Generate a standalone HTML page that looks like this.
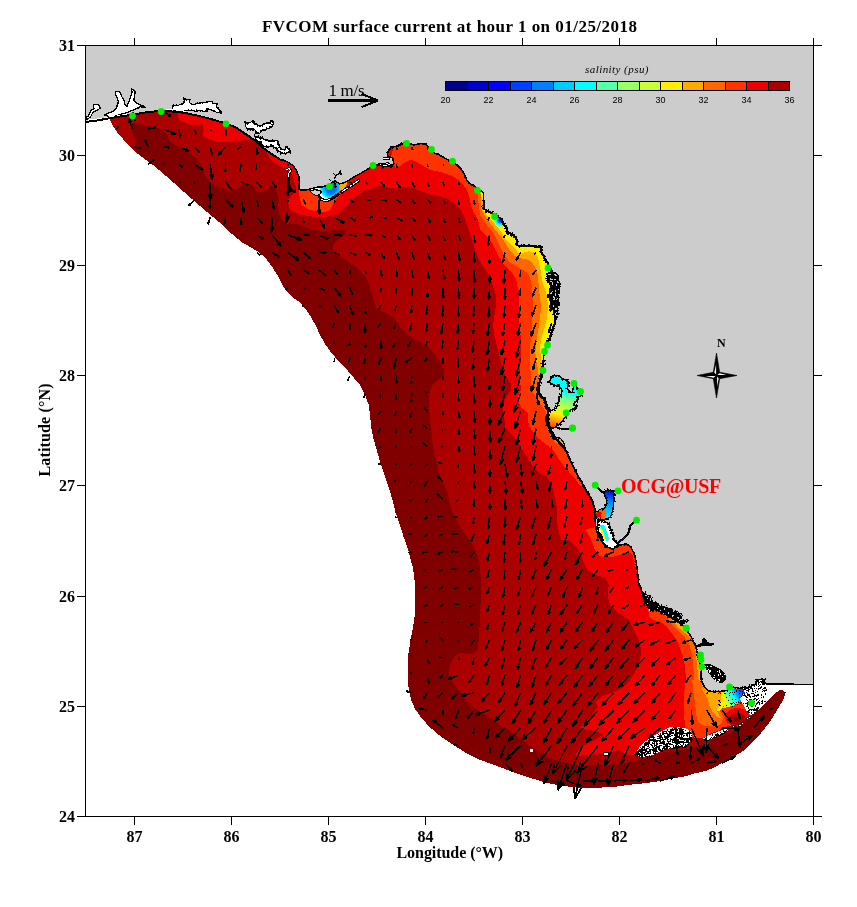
<!DOCTYPE html>
<html><head><meta charset="utf-8"><title>FVCOM surface current</title>
<style>html,body{margin:0;padding:0;background:#fff}body{width:857px;height:907px;position:relative;overflow:hidden}</style></head>
<body>
<svg width="857" height="907" viewBox="0 0 857 907" style="position:absolute;left:0;top:0">
<defs>
<linearGradient id="gTampa" gradientUnits="userSpaceOnUse" x1="565" y1="375" x2="550" y2="428"><stop offset="0" stop-color="#00FFFF"/><stop offset="0.30" stop-color="#00FFFF"/><stop offset="0.36" stop-color="#55FFAA"/><stop offset="0.50" stop-color="#99FF66"/><stop offset="0.62" stop-color="#CCFF33"/><stop offset="0.72" stop-color="#FFEE00"/><stop offset="0.82" stop-color="#FFAA00"/><stop offset="0.92" stop-color="#FF6600"/><stop offset="1" stop-color="#FF3300"/></linearGradient>
<linearGradient id="gChar" gradientUnits="userSpaceOnUse" x1="610" y1="490" x2="600" y2="545"><stop offset="0" stop-color="#0000CF"/><stop offset="0.2" stop-color="#0080FF"/><stop offset="0.4" stop-color="#00CCFF"/><stop offset="0.6" stop-color="#00FFFF"/><stop offset="0.75" stop-color="#99FF66"/><stop offset="0.9" stop-color="#FFEE00"/><stop offset="1" stop-color="#FF6600"/></linearGradient>
<radialGradient id="gApal" gradientUnits="userSpaceOnUse" cx="331" cy="188" r="12"><stop offset="0" stop-color="#0040FF"/><stop offset="0.45" stop-color="#0080FF"/><stop offset="0.7" stop-color="#00CCFF"/><stop offset="0.85" stop-color="#00FFFF"/><stop offset="1" stop-color="#FFFFFF"/></radialGradient>
<linearGradient id="gFlBay" gradientUnits="userSpaceOnUse" x1="743" y1="690" x2="716" y2="706"><stop offset="0" stop-color="#0040FF"/><stop offset="0.2" stop-color="#0080FF"/><stop offset="0.35" stop-color="#00FFFF"/><stop offset="0.5" stop-color="#55FFAA"/><stop offset="0.65" stop-color="#CCFF33"/><stop offset="0.8" stop-color="#FFEE00"/><stop offset="1" stop-color="#FFAA00"/></linearGradient>
<radialGradient id="gSuw" gradientUnits="userSpaceOnUse" cx="500" cy="220.5" r="8.5"><stop offset="0" stop-color="#0000CF"/><stop offset="0.25" stop-color="#0080FF"/><stop offset="0.45" stop-color="#00FFFF"/><stop offset="0.6" stop-color="#55FFAA"/><stop offset="0.78" stop-color="#CCFF33"/><stop offset="1" stop-color="#FFEE00"/></radialGradient>
</defs>
<rect width="857" height="907" fill="#fff"/>
<g shape-rendering="crispEdges">
<path d="M110.5,121.2L113.8,127.5L117.5,132.5L123.8,140.0L130.0,147.0L137.6,153.7L145.4,159.5L153.3,165.3L161.1,171.7L168.6,178.2L176.1,184.9L183.6,191.7L191.1,198.2L198.6,204.9L206.1,211.2L213.6,217.5L221.1,223.7L228.6,231.2L236.1,237.5L243.5,243.3L250.7,247.2L257.8,251.6L265.0,257.5L272.5,267.5L278.8,277.5L283.8,287.5L291.2,296.2L300.0,302.5L306.2,310.0L311.2,317.5L316.2,326.2L320.0,335.0L325.0,343.8L331.2,352.5L337.5,360.0L345.0,367.5L352.5,376.2L360.0,385.0L365.0,395.0L368.8,405.0L370.0,415.0L371.2,427.5L373.8,440.0L377.5,452.5L380.0,462.5L383.8,472.5L388.8,487.5L392.5,500.0L395.5,512.5L400.0,525.0L403.8,537.5L407.5,547.5L410.0,557.5L413.0,567.5L414.5,580.0L415.0,592.5L415.0,605.0L414.5,617.5L412.5,630.0L410.5,640.0L408.8,652.5L408.0,652.5L407.5,665.0L407.5,677.5L408.8,690.0L411.2,700.0L415.0,708.8L421.2,717.5L428.8,726.2L437.5,733.8L447.5,741.2L457.5,747.5L467.5,753.8L477.5,758.8L487.5,762.5L497.5,766.2L507.5,770.0L517.5,773.8L527.5,777.0L537.5,780.0L547.5,783.0L560.0,785.5L572.5,787.0L580.0,788.0L594.0,787.8L608.0,787.3L616.4,786.6L626.2,785.2L636.0,784.1L645.8,783.1L655.6,781.7L664.0,780.3L672.4,778.5L680.8,777.1L687.5,775.7L693.3,773.7L700.3,772.3L707.3,770.4L714.3,767.5L720.2,764.0L726.0,760.5L733.0,757.0L740.0,752.9L744.7,750.0L749.3,745.3L754.0,740.7L758.7,736.0L763.3,730.2L768.0,724.3L771.5,719.5L775.2,713.2L779.4,706.2L783.6,699.2L785.0,693.6L782.9,690.1L780.1,689.4L770.0,682.0L700.0,600.0L600.0,400.0L500.0,150.0L300.0,100.0L150.0,80.0L100.0,100.0Z" fill="#800000"/>
<path d="M110.5,121.2L113.8,127.5L117.5,132.5L123.8,140.0L130.0,147.0L137.6,153.7L133.8,147.5L136.2,142.5L131.2,130.0L132.5,122.5L145.0,125.5L155.0,127.0L162.5,130.0L167.5,135.0L170.0,141.2L177.5,146.2L187.5,151.2L197.5,158.8L202.5,167.5L205.0,175.0L210.0,182.5L220.0,187.5L230.0,191.2L237.5,188.8L245.0,182.5L252.5,185.0L257.5,192.5L265.0,191.2L271.2,185.0L276.2,190.0L278.8,200.0L277.5,210.0L282.5,220.0L287.5,225.0L290.0,222.5L300.0,225.0L312.5,230.0L325.0,231.2L337.5,230.0L346.2,230.0L345.0,235.0L337.5,240.0L332.5,246.2L333.8,251.2L340.0,256.2L350.0,262.5L360.0,270.0L367.5,280.0L373.8,300.0L376.2,308.8L385.0,312.5L393.8,317.5L400.0,326.2L406.2,333.8L415.0,338.8L425.0,343.8L432.5,351.2L438.8,360.0L443.8,370.0L443.8,376.2L437.5,380.0L432.5,385.0L428.8,395.0L428.8,405.0L430.0,417.5L431.2,430.0L432.5,442.5L433.8,452.5L437.5,465.0L437.5,470.0L442.5,480.0L447.5,492.5L450.0,505.0L453.8,515.0L458.8,525.0L465.0,533.8L471.2,542.5L476.2,552.5L479.5,562.5L480.5,575.0L480.8,590.0L480.5,605.0L480.0,620.0L479.0,635.0L478.0,650.0L472.5,653.8L465.0,653.8L458.8,652.5L453.8,657.5L450.0,665.0L448.8,674.2L450.0,677.5L453.8,685.0L461.2,692.5L467.5,702.5L477.5,710.0L490.0,717.5L500.0,725.0L512.5,732.5L522.5,740.0L532.5,747.5L542.5,753.8L552.5,758.8L565.0,762.5L580.0,766.3L588.4,765.6L596.8,764.9L605.2,765.6L613.6,764.2L622.0,763.5L630.4,762.1L638.8,760.0L645.8,758.6L652.8,756.5L661.2,752.8L670.0,751.5L679.0,750.3L688.0,748.8L695.7,746.5L701.5,745.3L706.2,747.7L708.5,745.3L710.8,740.7L716.7,738.3L722.5,736.0L728.3,733.7L733.0,731.3L736.5,729.0L738.8,726.7L744.0,721.5L751.4,715.3L755.6,711.8L761.2,707.6L765.4,703.4L771.0,697.8L776.6,692.2L780.1,689.4L770.0,682.0L700.0,600.0L600.0,400.0L500.0,150.0L300.0,100.0L150.0,80.0L100.0,100.0Z" fill="#AA0000"/>
<path d="M263.8,146.2L270.0,158.8L277.5,165.0L287.5,170.0L292.5,175.0L296.2,187.5L295.0,192.5L287.5,200.0L290.0,210.0L302.5,215.0L317.5,217.5L330.0,216.2L340.0,212.5L347.5,205.0L355.0,197.5L365.0,190.0L380.0,186.0L388.4,187.4L396.8,188.8L405.2,186.7L413.6,188.1L422.0,191.6L430.4,194.4L438.8,195.8L447.2,198.6L454.2,202.8L459.8,208.4L464.0,215.4L466.8,223.8L469.6,232.2L472.4,240.6L475.2,250.0L480.0,261.8L483.5,266.5L487.0,272.3L490.5,279.3L492.8,286.3L494.6,290.0L496.3,297.0L496.3,304.0L495.2,311.0L494.0,318.0L493.1,325.0L493.8,332.0L495.2,339.0L496.9,346.0L498.7,353.0L500.4,360.0L502.2,367.0L504.5,374.0L508.0,379.8L510.9,383.3L510.9,390.0L507.5,395.0L502.5,405.0L503.8,415.0L505.6,428.4L509.8,432.6L514.0,436.8L518.2,442.4L521.0,448.0L525.2,453.6L529.4,460.6L533.6,467.6L539.2,473.2L546.2,476.0L549.0,480.2L551.8,485.8L553.9,492.8L555.3,499.8L556.7,506.8L557.4,515.2L557.4,523.6L558.8,532.0L561.6,540.0L568.8,540.0L575.0,545.0L580.0,552.5L583.8,562.5L587.5,570.0L595.0,575.0L605.0,577.5L608.8,585.0L607.5,595.0L610.0,605.0L617.5,612.5L625.0,617.5L628.8,620.0L633.8,630.0L638.8,640.0L641.2,650.0L640.0,660.0L636.2,670.0L630.0,680.0L622.5,687.5L612.5,692.5L602.5,696.2L596.2,701.2L597.5,707.5L592.5,715.0L585.0,722.5L580.0,727.5L604.2,733.8L595.0,740.0L585.0,745.0L578.8,750.0L575.0,755.0L580.0,755.8L585.6,755.1L594.0,754.4L602.4,753.0L610.8,751.6L617.8,750.2L622.0,751.6L626.2,754.4L634.6,755.1L650.0,752.0L670.0,745.0L692.0,738.0L700.0,735.0L760.0,700.0L700.0,600.0L600.0,400.0L500.0,150.0L300.0,120.0L270.0,140.0Z" fill="#EE0000"/>
<path d="M177.5,111.2L178.8,120.0L187.5,123.8L195.0,125.5L202.5,123.8L203.8,130.0L202.5,135.0L207.5,138.8L220.0,142.5L235.0,141.2L250.0,139.5L255.0,136.2L245.0,130.0L230.0,122.5L212.5,117.0L192.5,113.0Z" fill="#EE0000"/>
<path d="M391.2,156.2L393.0,163.0L395.4,167.8L399.6,166.4L403.8,162.9L409.4,160.1L415.0,160.8L420.6,164.3L426.2,167.8L433.2,170.6L440.2,172.0L447.2,174.1L454.2,176.9L459.8,181.1L464.0,186.0L467.5,191.6L469.6,198.6L471.0,205.6L473.8,212.6L478.0,219.6L480.0,229.2L484.7,233.8L489.3,238.5L492.8,244.3L496.3,251.3L499.8,258.3L503.3,264.2L508.0,268.8L512.7,273.5L516.2,279.3L517.3,286.3L518.5,290.0L519.1,297.0L519.1,304.0L518.5,311.0L518.5,318.0L519.1,325.0L520.3,332.0L520.8,339.0L521.4,346.0L521.4,353.0L520.8,360.0L520.3,367.0L520.3,374.0L520.3,381.0L520.8,390.0L518.5,395.0L517.5,400.0L521.2,407.5L527.5,412.5L528.0,420.0L529.4,427.0L533.6,432.6L537.8,438.2L543.4,442.4L549.0,446.6L554.6,452.2L558.8,459.2L563.0,464.8L566.5,469.0L570.0,473.2L574.2,477.4L577.0,481.6L580.0,486.0L600.0,480.0L600.0,400.0L500.0,150.0L400.0,120.0Z" fill="#FF3300"/>
<path d="M585.0,530.0L588.8,535.0L592.5,542.5L595.0,550.0L600.0,556.2L610.0,557.5L620.0,555.0L627.5,551.2L632.5,555.0L636.2,570.0L640.0,585.0L643.8,596.2L646.0,605.0L648.9,613.6L649.6,617.8L655.2,620.6L660.8,622.0L666.4,626.2L670.6,631.8L674.8,637.4L678.3,643.0L680.4,650.0L683.2,657.0L684.6,664.0L685.3,671.0L686.0,678.0L685.2,690.0L684.0,700.0L684.5,715.0L685.2,726.7L688.7,734.8L695.7,738.3L704.0,737.5L712.0,733.0L720.0,730.0L740.0,700.0L700.0,600.0L620.0,520.0Z" fill="#FF3300"/>
<path d="M298.8,192.5L301.2,205.0L310.0,210.0L322.5,212.5L330.0,210.0L333.8,202.5L340.0,195.0L345.0,187.5L350.0,150.0L300.0,150.0Z" fill="#FF3300"/>
<path d="M478.0,191.6L478.0,200.0L479.4,208.4L480.0,215.2L484.7,222.2L489.3,228.0L494.0,233.8L497.5,240.8L501.0,249.0L504.5,256.0L509.2,261.8L515.0,265.3L520.8,268.8L526.7,272.3L530.2,278.2L531.9,285.2L531.3,290.0L532.5,297.0L533.1,304.0L533.1,311.0L532.5,318.0L531.9,325.0L531.3,332.0L530.8,339.0L530.2,346.0L530.2,353.0L530.2,360.0L530.2,367.0L530.8,374.0L531.3,381.0L531.9,390.0L546.2,412.5L547.5,420.0L600.0,400.0L560.0,200.0L480.0,190.0Z" fill="#FF6600"/>
<path d="M547.5,426.2L550.0,435.0L555.0,442.5L562.5,447.5L566.2,452.5L600.0,460.0L560.0,400.0Z" fill="#FF6600"/>
<path d="M665.0,615.0L669.2,620.6L673.4,626.2L679.0,631.8L684.6,637.4L688.8,643.0L690.9,650.0L692.3,657.0L693.0,664.0L693.7,671.0L693.5,680.0L694.5,691.7L695.7,703.3L696.3,715.0L698.0,722.0L703.8,725.5L709.7,726.0L716.7,726.7L721.3,723.2L723.7,717.3L721.3,712.7L716.7,709.2L740.0,690.0L720.0,600.0Z" fill="#FF6600"/>
<path d="M480.8,195.8L481.2,208.2L484.7,215.2L489.3,222.2L494.0,228.0L498.7,233.8L503.3,239.7L506.8,245.5L510.3,251.3L515.0,256.0L520.8,258.3L526.7,259.5L531.3,261.8L534.8,266.5L537.2,272.3L538.3,279.3L538.9,290.0L540.1,297.0L540.7,304.0L540.7,311.0L540.1,318.0L538.9,325.0L537.8,332.0L536.6,339.0L535.8,346.0L535.4,353.0L536.0,360.0L537.2,365.8L538.3,371.7L538.9,377.5L600.0,400.0L560.0,200.0L480.0,190.0Z" fill="#FFAA00"/>
<path d="M670.6,618.5L674.8,623.4L679.0,628.3L686.0,633.9L691.6,638.8L694.4,645.8L695.8,652.8L696.5,659.8L697.2,666.8L697.9,673.8L698.6,679.4L700.0,685.0L704.2,690.6L709.0,703.0L712.0,711.5L716.7,716.2L721.3,718.5L719.0,712.0L716.7,705.7L740.0,690.0L720.0,600.0Z" fill="#FFAA00"/>
<path d="M483.0,203.0L483.5,210.5L487.0,215.2L491.7,219.8L496.3,225.7L501.0,231.5L505.1,238.5L509.2,243.2L513.8,247.8L517.3,251.3L519.7,254.8L524.3,252.5L529.0,251.3L533.7,252.5L537.2,256.0L538.9,261.8L540.1,267.7L541.3,274.7L542.4,281.7L545.3,290.0L547.1,297.0L547.7,304.0L547.7,311.0L547.1,318.0L545.3,325.0L543.6,330.8L541.8,336.7L540.7,342.5L540.1,348.3L540.7,355.3L541.3,362.3L541.3,367.0L600.0,400.0L560.0,200.0L480.0,190.0Z" fill="#FFEE00"/>
<path d="M306.7,190.3L310.2,189.1L316.0,187.3L323.0,186.8L327.7,185.0L332.3,182.7L334.7,179.2L339.3,183.8L344.0,182.7L341.7,188.5L337.0,193.2L332.3,196.7L327.7,199.0L323.0,199.0L320.1,196.7L318.3,194.9L320.7,192.0L318.3,190.3L313.7,189.7Z" fill="url(#gApal)"/>
<path d="M339.3,185.0L344.0,182.7L347.5,181.5L346.3,186.2L342.8,189.7L340.5,189.7Z" fill="#FFAA00"/>
<path d="M491.7,215.2L497.5,216.3L502.2,218.7L505.7,223.3L506.8,228.0L506.3,233.3L503.3,231.5L499.8,228.0L496.3,224.5L492.8,219.8Z" fill="url(#gSuw)"/>
<path d="M543.7,271.0L548.0,270.0L551.0,273.0L551.0,278.7L547.0,279.0L544.5,276.0Z" fill="#CCFF33"/>
<path d="M685.2,680.0L684.0,697.5L684.0,715.0L685.2,726.7L688.7,734.8L695.7,738.3L703.8,737.2L709.7,733.7L716.7,731.3L722.5,727.8L730.7,725.5L740.0,723.2L749.3,716.2L754.0,712.7L751.7,708.0L745.8,704.5L740.0,703.3L728.3,691.7L705.0,691.7L700.3,680.0Z" fill="#FF3300"/>
<path d="M692.2,680.0L693.3,691.7L695.1,703.3L696.3,715.0L698.0,722.0L703.8,725.5L709.7,726.1L716.7,726.7L721.3,723.2L723.7,717.3L721.3,712.7L716.7,709.2L710.8,703.3L705.0,691.7L700.3,680.0Z" fill="#FF6600"/>
<path d="M701.5,687.0L705.0,691.1L710.8,692.3L716.7,691.7L721.3,692.8L722.5,698.7L720.2,705.7L716.7,710.3L719.0,715.0L721.3,718.5L716.7,716.2L712.0,711.5L709.1,705.7L707.9,698.7L703.8,692.8Z" fill="#FFAA00"/>
<path d="M721.3,691.7L724.8,692.8L726.0,698.7L724.8,703.3L722.5,708.0L719.0,711.5L716.7,710.3L719.0,705.7L721.3,699.8Z" fill="#FFEE00"/>
<path d="M723.7,691.1L730.7,689.3L735.3,688.2L741.2,689.9L745.8,692.8L742.3,697.5L740.0,702.2L735.3,705.1L728.3,706.8L723.1,708.6L724.8,703.3L726.0,698.7L724.8,694.0Z" fill="url(#gFlBay)"/>
<ellipse cx="737.7" cy="717.3" rx="12.3" ry="9.3" fill="#EE0000"/>
<ellipse cx="737.1" cy="719.1" rx="8.8" ry="6.4" fill="#AA0000"/>
<ellipse cx="737.1" cy="719.4" rx="3.5" ry="2.6" fill="#800000"/>
<path d="M736.5,729.0L738.8,726.7L744.0,721.5L751.4,715.3L755.6,711.8L761.2,707.6L765.4,703.4L771.0,697.8L776.6,692.2L780.1,689.4L780.1,689.4L782.9,690.1L785.0,693.6L783.6,699.2L779.4,706.2L775.2,713.2L771.5,719.5L768.0,724.3L763.3,730.2L758.7,736.0L754.0,740.7L749.3,745.3L744.7,750.0L740.0,752.9L733.0,757.0L726.0,760.5L720.2,764.0L714.3,767.5L707.3,770.4L700.3,772.3L706.2,747.7L708.5,745.3L710.8,740.7L716.7,738.3L722.5,736.0L728.3,733.7L733.0,731.3Z" fill="#800000"/>
<path d="M85.5,45.5L85.5,122.0L85.5,122.0L97.0,120.5L109.0,118.3L120.0,116.5L131.0,115.0L146.5,112.3L159.0,111.0L172.0,111.5L185.0,113.0L197.5,115.6L210.0,118.8L222.5,122.5L235.0,127.0L242.5,132.0L248.8,136.2L255.0,140.6L261.2,146.2L267.5,151.2L273.8,155.6L280.0,159.4L286.2,161.2L292.5,165.0L296.2,170.0L298.8,176.2L299.4,182.5L298.8,186.0L299.2,189.7L304.3,190.3L310.2,189.1L316.0,187.3L323.0,186.8L327.7,185.0L332.3,182.7L334.7,180.5L339.3,183.8L344.0,182.7L348.7,180.3L353.3,177.4L360.0,173.7L365.6,170.5L372.6,166.3L380.0,164.3L385.6,165.0L391.2,167.1L394.0,163.6L392.6,158.0L388.4,156.6L387.0,152.4L391.2,147.5L396.8,146.1L401.0,144.0L406.6,143.3L413.6,144.7L420.6,143.7L426.2,144.0L428.3,148.2L433.2,152.4L440.2,155.2L445.8,158.7L451.4,161.5L456.3,164.3L461.2,169.2L464.7,174.8L466.8,180.4L471.0,184.6L476.6,187.4L480.8,190.9L483.6,193.0L483.5,200.0L483.5,208.2L487.0,211.1L491.7,212.8L496.3,215.8L501.0,218.7L503.3,223.3L506.8,228.0L506.8,232.7L511.5,233.8L515.0,237.3L517.3,240.8L516.2,244.3L519.7,246.7L523.2,245.5L529.0,246.1L536.0,246.7L541.8,246.7L540.7,251.3L543.0,254.8L545.3,259.5L547.7,263.0L548.8,266.5L551.2,271.2L554.7,273.5L558.2,278.2L558.8,284.0L558.2,290.0L557.6,297.0L557.0,304.0L557.0,311.0L555.8,318.0L554.7,323.8L552.3,329.7L550.6,335.5L548.8,340.2L547.1,344.8L544.8,350.7L543.6,356.5L543.6,362.3L543.6,368.2L542.4,374.0L541.3,378.7L539.5,383.3L538.3,390.0L545.0,402.5L549.5,410.0L548.8,417.5L548.8,425.0L552.5,432.5L556.2,438.8L562.5,445.0L567.0,452.5L570.0,460.0L573.8,467.5L577.5,475.0L582.5,483.8L587.5,492.5L592.5,501.2L595.0,510.0L595.0,520.0L596.2,530.0L600.0,538.8L605.0,546.2L612.5,548.8L620.0,545.0L626.2,543.8L631.2,547.5L635.0,556.2L637.0,567.5L638.4,580.0L639.1,585.6L641.9,591.2L644.0,598.2L646.8,605.2L650.3,610.8L655.2,609.4L660.8,612.2L666.4,615.0L672.0,618.5L677.6,622.0L681.8,624.8L686.0,628.3L688.8,633.2L691.6,637.4L693.7,641.6L695.8,647.2L697.2,652.8L698.6,658.4L700.0,664.0L701.4,669.6L700.7,675.2L701.4,680.8L704.2,686.4L708.4,690.6L714.0,692.0L721.0,691.3L726.6,690.6L730.8,687.8L735.0,687.3L740.2,688.7L745.8,688.0L750.0,686.6L755.6,683.8L758.4,679.6L764.0,679.6L765.4,684.1L794.2,684.1L813.5,684.5L813.5,45.5Z" fill="#CCCCCC"/>
<path d="M85.5,122.0L97.0,120.5L109.0,118.3L120.0,116.5L131.0,115.0L146.5,112.3L159.0,111.0L172.0,111.5L185.0,113.0L197.5,115.6L210.0,118.8L222.5,122.5L235.0,127.0L242.5,132.0L248.8,136.2L255.0,140.6L261.2,146.2L267.5,151.2L273.8,155.6L280.0,159.4L286.2,161.2L292.5,165.0L296.2,170.0L298.8,176.2L299.4,182.5L298.8,186.0L299.2,189.7L304.3,190.3L310.2,189.1L316.0,187.3L323.0,186.8L327.7,185.0L332.3,182.7L334.7,180.5L339.3,183.8L344.0,182.7L348.7,180.3L353.3,177.4L360.0,173.7L365.6,170.5L372.6,166.3L380.0,164.3L385.6,165.0L391.2,167.1L394.0,163.6L392.6,158.0L388.4,156.6L387.0,152.4L391.2,147.5L396.8,146.1L401.0,144.0L406.6,143.3L413.6,144.7L420.6,143.7L426.2,144.0L428.3,148.2L433.2,152.4L440.2,155.2L445.8,158.7L451.4,161.5L456.3,164.3L461.2,169.2L464.7,174.8L466.8,180.4L471.0,184.6L476.6,187.4L480.8,190.9L483.6,193.0L483.5,200.0L483.5,208.2L487.0,211.1L491.7,212.8L496.3,215.8L501.0,218.7L503.3,223.3L506.8,228.0L506.8,232.7L511.5,233.8L515.0,237.3L517.3,240.8L516.2,244.3L519.7,246.7L523.2,245.5L529.0,246.1L536.0,246.7L541.8,246.7L540.7,251.3L543.0,254.8L545.3,259.5L547.7,263.0L548.8,266.5L551.2,271.2L554.7,273.5L558.2,278.2L558.8,284.0L558.2,290.0L557.6,297.0L557.0,304.0L557.0,311.0L555.8,318.0L554.7,323.8L552.3,329.7L550.6,335.5L548.8,340.2L547.1,344.8L544.8,350.7L543.6,356.5L543.6,362.3L543.6,368.2L542.4,374.0L541.3,378.7L539.5,383.3L538.3,390.0L545.0,402.5L549.5,410.0L548.8,417.5L548.8,425.0L552.5,432.5L556.2,438.8L562.5,445.0L567.0,452.5L570.0,460.0L573.8,467.5L577.5,475.0L582.5,483.8L587.5,492.5L592.5,501.2L595.0,510.0L595.0,520.0L596.2,530.0L600.0,538.8L605.0,546.2L612.5,548.8L620.0,545.0L626.2,543.8L631.2,547.5L635.0,556.2L637.0,567.5L638.4,580.0L639.1,585.6L641.9,591.2L644.0,598.2L646.8,605.2L650.3,610.8L655.2,609.4L660.8,612.2L666.4,615.0L672.0,618.5L677.6,622.0L681.8,624.8L686.0,628.3L688.8,633.2L691.6,637.4L693.7,641.6L695.8,647.2L697.2,652.8L698.6,658.4L700.0,664.0L701.4,669.6L700.7,675.2L701.4,680.8L704.2,686.4L708.4,690.6L714.0,692.0L721.0,691.3L726.6,690.6L730.8,687.8L735.0,687.3L740.2,688.7L745.8,688.0L750.0,686.6L755.6,683.8L758.4,679.6L764.0,679.6L765.4,684.1L794.2,684.1" fill="none" stroke="#000" stroke-width="1.5"/>
<path d="M91.5,110.0L94.0,108.7L93.4,105.0L96.5,104.3L99.6,105.6L100.2,108.1L97.7,110.0L95.2,111.2L92.7,112.5L91.5,115.0L90.2,117.5L87.7,118.7L85.9,120.0L85.9,117.5L88.4,116.2L89.6,113.1Z" fill="#fff" stroke="#000" stroke-width="1.2" stroke-linejoin="round"/>
<path d="M115.2,92.5L117.7,91.2L120.2,92.5L121.5,96.2L124.0,100.0L125.2,105.0L127.1,106.2L128.9,101.2L130.8,96.2L132.1,92.5L131.4,88.7L133.3,90.0L135.2,91.9L134.6,96.2L133.9,100.6L136.4,103.1L140.2,105.0L143.9,106.2L145.2,107.2L140.2,106.8L137.7,108.1L133.9,110.0L130.2,111.2L126.4,112.7L122.7,113.7L119.0,115.0L115.8,115.6L114.6,117.5L111.5,118.1L109.0,117.5L106.5,115.6L104.0,115.0L106.5,113.7L110.2,112.5L114.0,110.6L116.5,108.1L117.7,105.0L118.3,101.2L117.1,97.5L115.8,95.0Z" fill="#fff" stroke="#000" stroke-width="1.2" stroke-linejoin="round"/>
<path d="M172.5,108.1L173.7,105.0L177.5,105.6L182.5,103.7L185.0,101.2L183.7,98.7L186.8,100.0L190.0,99.4L189.3,102.5L192.5,104.4L197.5,103.7L202.4,102.5L207.4,101.9L211.2,101.2L213.7,103.7L217.4,103.7L216.2,106.8L219.9,110.0L221.2,113.1L217.4,112.5L213.7,111.2L209.9,109.3L206.2,108.7L207.4,111.8L203.7,111.2L200.0,110.6L196.2,111.2L191.2,110.6L187.5,110.6L182.5,111.8L177.5,111.2L173.7,110.0Z" fill="#fff" stroke="#000" stroke-width="1.2" stroke-linejoin="round"/>
<path d="M245.0,122.5L248.7,123.1L253.7,120.6L255.0,123.7L260.0,126.2L265.0,123.7L270.0,122.5L271.8,120.6L273.7,122.5L272.4,126.2L267.5,128.7L262.5,130.0L260.0,133.1L256.8,133.7L255.0,130.0L251.2,128.7L247.5,130.0L245.6,126.2Z" fill="#fff" stroke="#000" stroke-width="1.2" stroke-linejoin="round"/>
<path d="M255.0,136.2L261.2,138.1L266.2,140.0L272.4,141.2L277.4,140.6L278.7,145.0L281.2,148.7L284.9,150.0L286.2,146.8L289.9,150.0L290.5,152.4L286.2,153.1L282.4,153.7L278.7,151.2L274.9,147.5L271.2,146.2L267.5,147.5L263.7,146.2L260.0,142.5L256.2,140.0Z" fill="#fff" stroke="#000" stroke-width="1.2" stroke-linejoin="round"/>
<path d="M245.0,122.5l0.1,-1.6M246.5,122.7l-0.2,1.6M248.0,123.0l-0.9,1.7M248.7,123.1l-2.1,-1.0M252.7,121.1l-0.7,2.1M253.7,120.6l-1.3,-0.4M254.3,122.0l-0.9,1.6M254.9,123.4l-1.3,1.1M255.0,123.7l2.0,-0.4M259.0,125.7l-1.8,0.5M261.3,125.5l2.1,1.0M264.0,124.2l-0.6,-1.0M266.5,123.3l0.6,-1.3M267.9,123.0l1.7,0.7M270.0,122.5l-0.1,1.9M271.8,120.6l-1.8,0.4M273.7,122.5l-1.5,-0.8M273.2,123.9l0.9,1.3M272.7,125.3l-1.7,-0.9M271.1,126.9l1.3,0.6M269.7,127.6l-0.2,-1.9M268.4,128.2l1.2,0.6M267.5,128.7l-1.8,-1.0M266.0,129.1l1.4,1.3M264.6,129.5l1.3,1.6M263.1,129.8l1.4,1.4M260.6,132.3l-0.2,-2.0M258.5,133.4l-1.3,-1.5M257.1,133.7l-0.9,-1.1M256.8,133.7l-1.6,-0.5M256.1,132.4l-0.7,1.4M255.5,131.0l1.8,0.7M255.0,130.0l0.7,1.7M253.6,129.5l-1.1,1.6M252.2,129.0l1.9,-1.0M251.2,128.7l-0.8,2.3M249.8,129.2l-1.2,-1.3M248.4,129.7l-0.8,-1.8" stroke="#000" stroke-width="1.2" fill="none"/>
<path d="M255.0,136.2l-0.6,-1.9M256.4,136.6l0.5,1.6M257.9,137.1l1.0,-1.4M259.3,137.5l0.8,1.8M260.7,138.0l0.0,1.9M261.2,138.1l-0.9,-1.9M262.6,138.6l-0.5,-2.3M266.2,140.0l-0.9,1.3M267.7,140.3l-1.2,-1.4M269.1,140.6l-0.6,1.7M270.6,140.9l-1.8,1.2M272.1,141.1l0.9,-1.8M272.4,141.2l0.4,-1.4M273.9,141.0l0.2,1.2M276.9,140.7l-0.3,-1.0M277.4,140.6l-1.3,0.0M277.8,142.0l0.8,-1.3M278.3,143.5l-1.1,-0.2M278.7,144.9l-1.3,-0.6M278.7,145.0l1.2,-0.9M280.4,147.5l-2.2,0.3M281.2,148.7l-1.3,1.6M282.6,149.2l-1.9,0.7M284.0,149.7l2.0,-1.0M284.9,150.0l1.3,-0.5M286.0,147.2l-1.2,-0.4M286.2,146.8l1.8,-0.1M287.3,147.8l0.3,-1.4M289.6,149.7l0.4,-1.9M289.9,150.0l1.4,0.3M290.3,151.5l-2.0,-0.3M290.5,152.4l-0.1,2.0M286.2,153.1l-1.0,1.6M284.7,153.3l0.2,-1.6M283.2,153.6l-0.9,-1.4M281.2,152.9l-1.2,1.5M279.9,152.0l1.2,-0.9M278.7,151.2l-1.4,1.3M277.6,150.2l-1.2,0.4M276.6,149.1l1.3,-0.5M275.5,148.1l1.2,-0.4M274.9,147.5l-1.9,1.2M273.5,147.0l0.5,-0.9M272.1,146.5l1.3,-1.3M271.2,146.2l-0.2,-2.0M269.8,146.7l0.4,-1.4M267.5,147.5l0.7,-1.6M266.1,147.0l0.7,-1.7M262.6,145.1l-0.9,1.3M261.6,144.1l-1.3,1.1M260.5,143.0l-0.6,1.4M260.0,142.5l1.7,-0.5M258.7,141.7l2.1,-0.5M256.2,140.0l-0.8,1.8M255.3,137.1l-1.4,-0.7" stroke="#000" stroke-width="1.2" fill="none"/>
<path d="M115.2,92.5l0.1,-1.2M117.4,91.3l-0.1,0.9M119.9,92.4l-0.8,0.6M122.9,98.3l-0.2,1.0M128.8,101.5l1.2,-0.1M130.7,96.5l0.5,1.0M135.1,91.8l-1.2,0.3M135.2,91.9l-0.9,-0.2M134.6,96.2l-0.6,-0.6M134.2,98.7l-0.6,-0.9M136.4,103.1l-0.3,-1.3M138.6,104.2l0.7,-0.8M140.2,105.0l1.0,-0.6M143.9,106.2l-0.3,1.1M145.2,107.2l-0.5,1.1M142.7,107.0l-0.3,1.0M140.2,106.8l0.5,-1.0M140.2,106.8l0.0,-1.1M138.0,108.0l0.4,0.9M137.7,108.1l0.3,-1.1M135.5,109.2l-0.2,-1.2M133.9,110.0l-0.2,-0.9M131.5,110.8l-0.0,-1.1M120.3,114.5l-0.5,0.8M116.5,115.5l0.6,0.9M114.6,117.5l0.4,-0.8M112.1,118.0l0.7,-0.8M109.0,117.5l0.7,-0.8M106.5,115.6l0.9,-0.6M104.0,115.0l0.2,1.1M106.2,113.8l0.0,0.7M112.4,111.4l0.9,0.6M114.0,110.6l-1.3,-0.3M115.8,108.8l-1.0,-0.1M117.4,105.8l-1.0,0.2" stroke="#000" stroke-width="1" fill="none"/>
<path d="M172.5,108.1l-0.8,-1.4M173.4,105.8l-0.7,-0.7M173.7,105.0l0.5,1.4M176.2,105.4l-0.2,-1.0M177.5,105.6l-1.3,-1.0M182.5,103.7l0.6,1.2M184.3,101.9l-0.8,-0.5M183.8,99.0l-1.3,0.2M183.7,98.7l-0.2,-1.4M186.0,99.7l-0.1,-1.6M186.8,100.0l-0.2,-0.9M189.3,99.5l-0.3,1.4M190.0,99.4l-1.3,-0.2M189.4,101.8l1.1,0.3M189.3,102.5l-0.4,1.1M191.4,103.8l0.2,1.4M195.0,104.1l0.1,-0.9M197.5,103.7l-0.4,-1.2M197.5,103.7l-0.8,-1.0M199.9,103.1l-0.3,-0.8M202.4,102.5l-0.2,1.1M207.4,101.9l-0.4,1.5M207.4,101.9l-0.5,1.0M211.2,101.2l1.4,0.0M213.0,103.0l-0.8,1.0M218.1,108.4l0.8,-0.7M220.9,112.3l1.1,-1.1M218.7,112.7l1.1,-0.8M217.4,112.5l1.0,-1.0M215.0,111.7l-0.3,-1.3M213.7,111.2l1.3,-0.5M211.5,110.1l0.4,1.1M207.4,108.9l0.1,1.3M204.9,111.4l0.2,-1.0M200.0,110.6l0.1,1.3M197.5,111.0l-1.4,-1.2M191.2,110.6l0.9,-1.3M188.7,110.6l0.1,-1.2M185.1,111.2l-1.4,-0.9M182.6,111.8l1.5,0.9M180.0,111.5l-1.1,1.4M177.5,111.2l-0.7,-1.3M175.1,110.4l-1.0,0.6" stroke="#000" stroke-width="1" fill="none"/>
<path d="M88,120.2L100,118.6L113,116.6L128,114.2" stroke="#fff" stroke-width="1" fill="none"/>
<path d="M166,109.5L176,110L186,111.5" stroke="#fff" stroke-width="1" fill="none"/>
<path d="M286.3,169.3L289.2,168.7L290.6,170.8L288.9,173.3L288.0,176.8L288.4,182.7L289.4,187.3L291.3,190.8L296.2,191.4" stroke="#000" stroke-width="3" fill="none" stroke-linejoin="round"/>
<path d="M286.3,169.3L289.2,168.7L290.6,170.8L288.9,173.3L288.0,176.8" stroke="#fff" stroke-width="1" fill="none"/>
<path d="M310.2,190.8L314.8,189.7L319.5,190.3L321.3,192.0L319.5,194.9L316.0,195.5L312.5,193.8Z" fill="#CCCCCC" stroke="#000" stroke-width="1.2"/>
<path d="M318.9,195.7L320.7,199.0L325.3,200.8L330.0,199.6L334.7,196.7L339.3,193.8" stroke="#000" stroke-width="3" fill="none" stroke-linejoin="round"/>
<path d="M320.7,199.0L325.3,200.8L330.0,199.6" stroke="#fff" stroke-width="1" fill="none"/>
<path d="M341.7,192.2L347.5,187.9" stroke="#000" stroke-width="3.2" fill="none" stroke-linecap="round"/>
<path d="M341.7,192.2L347.5,187.9" stroke="#fff" stroke-width="1" fill="none"/>
<path d="M349.8,186.4L358.6,180.6" stroke="#000" stroke-width="3.2" fill="none" stroke-linecap="round"/>
<path d="M349.8,186.4L358.6,180.6" stroke="#fff" stroke-width="1" fill="none"/>
<path d="M379.6,164.5L388.0,163.9L390.8,165.6" stroke="#000" stroke-width="3" fill="none" stroke-linecap="round"/>
<path d="M379.6,164.5L388.0,163.9L390.8,165.6" stroke="#fff" stroke-width="1" fill="none"/>
<path d="M547.4,417.9L548.3,412.3L552.1,410.4L555.8,408.6L557.7,404.8L558.6,400.1L560.5,395.5L562.3,390.8L560.5,388.0L557.7,386.1L553.0,384.3L548.8,382.4L551.1,378.7L553.0,375.4L557.2,375.4L561.4,377.7L566.1,380.1L568.0,383.3L567.5,388.0L568.9,391.7L572.6,392.7L573.1,388.0L573.6,385.2L575.9,384.3L577.3,388.0L581.0,391.7L582.0,395.5L578.2,397.3L576.4,401.1L573.6,403.9L575.4,405.8L577.3,406.7L574.5,408.6L570.8,409.5L568.0,412.3L566.1,416.0L563.3,419.8L560.5,422.6L557.7,425.4L554.9,427.2L551.1,428.2L548.3,425.4L546.9,421.6Z" fill="url(#gTampa)" stroke="#000" stroke-width="1.3" stroke-linejoin="round"/>
<path d="M547.4,417.9l-2.1,-0.3M547.6,416.6l-2.2,-0.4M547.8,415.3l1.4,0.8M548.0,414.0l-1.5,0.8M548.2,412.8l-1.1,-1.1M550.6,411.1l-0.6,2.2M552.1,410.4l-2.0,-0.6M554.4,409.3l0.8,1.8M555.6,408.7l-1.5,-0.7M556.4,407.4l-1.7,-2.0M557.5,405.1l1.9,1.1M557.9,403.5l-2.4,-0.1M558.2,402.2l2.2,-1.6M558.4,401.0l1.4,-0.6M559.1,398.9l-1.3,-1.6M559.6,397.7l-1.7,-1.2M560.1,396.5l2.0,-1.0M560.5,395.5l1.3,2.2M561.0,394.3l-2.3,-0.3M560.9,388.6l-2.3,1.0M559.4,387.3l-0.3,-2.3M558.3,386.5l-1.7,0.5M557.7,386.1l1.7,-1.8M556.5,385.6l2.2,-1.0M555.3,385.2l-1.8,1.9M554.1,384.7l-0.7,1.4M551.8,383.8l-1.7,0.9M548.8,382.4l-2.1,-0.4M549.5,381.3l-2.4,0.8M551.1,378.7l-1.0,-2.2M551.7,377.6l2.3,-0.8M553.0,375.4l-1.9,1.4M554.3,375.4l0.6,-1.4M555.6,375.4l-0.0,1.9M556.9,375.4l-0.5,1.5M558.3,376.0l1.9,-0.4M561.4,377.7l0.1,2.1M562.6,378.3l-0.3,2.3M563.7,378.9l-1.3,0.8M566.0,380.1l2.5,-0.9M566.1,380.1l2.2,-0.2M567.4,382.3l2.0,-0.9M568.0,383.3l2.3,-0.3M567.9,384.6l-2.3,-1.9M567.7,385.9l2.3,0.0M567.5,388.0l-1.9,0.8M568.0,389.2l-2.3,-1.1M568.4,390.4l1.9,0.6M568.9,391.7l-0.5,1.5M572.6,392.7l1.9,-0.7M575.9,384.3l-2.1,1.3M577.3,388.0l-1.5,0.9M578.2,388.9l-1.9,0.8M581.0,391.7l1.6,-0.4M581.0,391.7l1.8,0.3M581.3,393.0l-2.6,-0.3M582.0,395.5l-1.9,0.9M582.0,395.5l0.9,1.5M580.8,396.1l0.3,-2.4M579.7,396.6l-2.3,-0.6M578.5,397.2l0.2,2.4M578.2,397.3l-1.9,-0.4M577.1,399.6l1.8,-0.9M576.5,400.8l1.9,0.3M576.4,401.1l1.5,1.7M575.5,402.0l-1.2,-0.9M574.6,402.9l0.4,2.8M573.6,403.9l-0.3,2.5M575.4,405.8l1.0,-1.0M577.3,406.7l-0.5,-2.4M576.2,407.4l-0.4,2.2M575.1,408.2l0.2,1.5M574.5,408.6l1.4,-2.0M573.2,408.9l1.8,1.7M572.0,409.2l0.9,2.3M569.0,411.3l1.8,0.1M568.0,412.3l0.8,1.6M568.0,412.3l-1.3,-2.2M565.3,417.0l1.7,1.4M563.3,419.8l0.9,2.5M562.4,420.7l0.9,1.5M560.5,422.6l0.6,2.8M559.6,423.5l1.0,2.5M557.7,425.4l0.4,-1.8M556.6,426.1l0.0,-2.7M555.5,426.8l2.6,0.5M553.6,427.5l0.3,1.4M551.1,428.2l-0.1,-1.4M548.3,425.4l1.7,-0.6M547.9,424.2l2.4,1.1M547.0,421.7l-2.4,-0.1M547.1,420.3l1.8,-0.4M547.2,419.0l-2.1,0.9" stroke="#000" stroke-width="1.3" fill="none"/>
<path d="M543.7,360.0L542.7,365.6L541.8,372.1L540.9,378.7L539.0,384.3L537.1,388.9L538.1,392.7L542.7,397.3L545.5,401.1L546.9,405.8L547.9,411.4L547.4,417.0L547.4,423.5L549.3,428.2L552.1,433.8L553.9,440.0" fill="none" stroke="#000" stroke-width="2.2" stroke-linejoin="round"/>
<path d="M543.5,361.2l1.8,-1.2M543.3,362.4l-2.8,1.4M543.1,363.5l-3.0,-0.0M542.7,365.6l3.2,-1.8M542.4,368.0l-2.2,1.4M542.2,369.2l2.6,2.6M542.0,370.4l2.7,-0.8M541.8,372.1l2.5,1.1M541.6,373.3l2.9,-1.1M541.5,374.5l-2.6,1.7M541.3,375.7l-2.4,0.5M541.0,378.0l2.2,-0.7M540.9,378.7l-2.5,0.0M540.5,379.8l1.8,-0.1M540.1,381.0l1.3,2.7M539.7,382.1l-2.6,1.1M539.4,383.2l-1.9,-1.5M539.0,384.3l-1.7,-0.5M538.1,386.5l2.5,-1.3M537.6,387.6l2.6,0.9M537.1,388.9l2.8,1.7M537.7,391.2l2.3,-1.3M538.9,393.5l-2.1,2.1M539.8,394.4l-0.8,2.1M540.6,395.2l0.2,2.9M541.5,396.1l-2.0,0.4M542.7,397.3l-1.6,1.0M543.4,398.3l2.8,0.4M544.8,400.2l0.3,-3.0M545.5,401.1l-1.8,1.8M546.2,403.4l-2.1,-0.5M546.5,404.6l-1.9,2.5M546.9,405.7l-1.4,0.9M546.9,405.8l-2.0,1.7M547.1,407.0l2.7,1.2M547.3,408.2l-2.4,-0.3M547.9,411.4l2.2,-1.4M547.6,415.0l2.0,0.2M547.5,416.2l-2.1,1.4M547.4,417.0l2.5,2.3M547.4,418.2l2.1,1.3M547.4,419.4l-2.5,-1.6M547.4,420.6l-2.1,0.1M547.4,423.0l2.3,0.5M547.4,423.5l-1.7,3.0M547.8,424.6l1.8,-2.8M548.3,425.7l2.4,1.3M549.2,428.0l2.0,-1.7M552.0,433.6l-2.3,-0.2M552.1,433.8l-3.4,-1.4M552.4,435.0l-1.8,-0.3M552.8,436.1l-2.3,-0.1M553.4,438.4l2.8,1.5M553.8,439.6l1.5,-0.4" stroke="#000" stroke-width="1.4" fill="none"/>
<path d="M555.8,427.2L560.5,428.6L565.1,429.1L569.8,428.6" fill="none" stroke="#000" stroke-width="1.6"/>
<path d="M560.1,428.5l-0.3,1.2M560.5,428.6l-0.8,0.8M562.0,428.8l0.4,0.8M563.5,428.9l-0.2,-1.2M565.0,429.1l0.5,-1.3M568.1,428.8l0.3,1.3" stroke="#000" stroke-width="1.1" fill="none"/>
<path d="M556.0,437.5L560.2,438.2L563.7,442.4L565.1,447.3L563.0,448.0L559.5,443.8L556.7,440.3Z" fill="#FFAA00" stroke="#000" stroke-width="1.2"/>
<path d="M603.1,491.7L608.0,490.0L613.6,491.7L614.0,500.2L612.8,509.9L610.4,517.1L604.3,519.6L597.1,518.4L594.6,513.5L599.5,509.9L605.6,507.4L606.8,500.2L604.8,495.3Z" fill="url(#gChar)" stroke="#000" stroke-width="1.3" stroke-linejoin="round"/>
<path d="M595.1,512.8L599.5,509.9L604.8,508.6L606.8,513.5L604.8,519.1L597.5,518.6Z" fill="#FF6600"/>
<path d="M595.1,513.3L599.0,511.3L601.9,512.8L600.7,517.1L597.1,517.6Z" fill="#EE0000"/>
<path d="M598.3,520.8L604.3,520.8L609.2,524.4L611.6,531.7L614.0,539.0L617.7,545.0L614.0,548.7L608.0,547.5L603.1,542.6L599.5,534.1L597.1,526.8Z" fill="#fff" stroke="#000" stroke-width="1.3" stroke-linejoin="round"/>
<path d="M600.0,525.6L603.9,524.4L606.8,531.7L609.2,539.0L606.8,541.4L603.1,535.3Z" fill="#00FFFF"/>
<path d="M600.0,528.1L603.1,530.5L605.6,537.8L603.9,539.0L601.4,534.1Z" fill="#FFEE00"/>
<path d="M603.1,491.7l0.9,0.9M604.5,491.2l1.1,0.8M605.9,490.7l-1.7,-1.3M608.0,490.0l-0.8,-1.7M609.4,490.4l-1.5,1.6M610.9,490.9l-0.5,-1.6M612.3,491.3l1.8,-1.1M613.7,493.2l1.3,1.5M613.7,494.7l1.8,0.4M613.8,496.2l1.7,-1.1M614.0,499.2l-1.1,-0.5M614.0,500.2l1.5,1.7M613.3,506.2l1.1,0.3M612.9,509.1l1.1,0.5M612.3,511.3l1.2,0.9M611.4,514.2l1.4,0.3M610.4,517.1l1.5,0.6M609.0,517.7l-0.5,1.7M607.6,518.2l1.2,1.1M606.2,518.8l2.0,0.9M604.8,519.4l-0.1,1.3M601.3,519.1l0.2,1.8M599.9,518.9l1.2,-1.2M598.4,518.6l1.2,1.3M596.4,517.1l-0.8,1.1M595.7,515.7l-1.3,0.6M594.6,513.5l-1.0,-1.2M597.0,511.7l1.4,0.4M602.3,508.8l0.5,1.8M603.7,508.2l0.3,1.4M605.8,505.9l-1.6,-1.3M606.1,504.4l-1.7,0.5M606.3,503.0l1.7,0.6M606.8,500.2l1.3,0.0M605.7,497.4l1.9,0.1M604.8,495.3l-1.1,1.3M604.2,493.9l1.2,0.1M603.5,492.6l1.1,-0.1" stroke="#000" stroke-width="1.2" fill="none"/>
<path d="M598.3,520.8l-0.9,-2.0M599.5,520.8l-1.3,-2.4M600.7,520.8l1.9,-2.0M601.9,520.8l0.5,-1.8M603.1,520.8l-1.8,1.6M604.3,520.8l-0.2,2.6M606.2,522.2l-2.7,0.6M608.2,523.6l1.7,-0.6M609.1,524.4l-1.7,0.8M609.2,524.4l-1.9,0.2M609.6,525.5l-0.9,1.8M610.3,527.8l-1.8,-1.0M610.7,529.0l-1.6,-0.7M611.1,530.1l-2.0,0.5M611.4,531.2l1.6,-1.3M611.6,531.7l-1.4,1.6M612.0,532.8l-2.2,0.9M612.3,534.0l1.8,0.3M612.7,535.1l1.2,-2.4M613.1,536.3l1.9,-0.8M613.5,537.4l-1.3,2.0M614.0,539.0l-0.4,1.7M614.6,540.0l-0.7,1.4M615.3,541.0l1.9,0.0M617.1,544.1l2.7,0.1M616.9,545.8l1.0,1.7M615.2,547.5l-1.2,-0.7M614.3,548.4l-2.3,0.2M614.0,548.7l-0.8,2.3M611.6,548.2l0.1,1.3M608.1,547.5l-0.8,-1.5M607.2,546.7l0.1,-1.8M602.6,541.5l-1.3,0.1M602.2,540.4l1.5,0.0M601.7,539.3l2.3,0.8M601.2,538.2l1.4,-0.2M600.8,537.1l-2.0,1.0M600.3,536.0l2.1,0.9M599.8,534.9l1.9,0.0M599.1,533.0l2.0,0.3M598.4,530.7l0.6,-2.2M598.0,529.5l-1.5,-0.1M597.3,527.3l2.5,0.3M597.3,525.6l2.5,-1.0M597.6,524.4l1.8,1.6M598.0,522.1l2.4,-0.5" stroke="#000" stroke-width="1.3" fill="none"/>
<path d="M595.9,485.8L599.4,489.3L602.9,492.8" fill="none" stroke="#000" stroke-width="1.6"/>
<path d="M613.4,491.4L616.9,490.7" fill="none" stroke="#000" stroke-width="1.6"/>
<path d="M616.2,543.8L620.0,541.2L625.0,537.5L628.8,532.5L630.0,526.2L633.8,522.5L636.2,520.5" fill="none" stroke="#000" stroke-width="2.2"/>
<path d="M620.0,541.2L625.0,537.5L628.8,532.5L630.0,526.2L633.8,522.5" fill="none" stroke="#0000CF" stroke-width="1" stroke-dasharray="2 2"/>
<path d="M616.2,543.8l1.3,0.2M617.4,543.0l0.7,1.1M619.9,541.3l-1.1,-1.0M620.0,541.2l-0.2,1.8M625.0,537.5l1.3,-0.4M625.9,536.3l0.0,1.4M626.8,535.1l0.5,1.0M628.6,532.7l-1.0,-1.0M628.8,532.5l-1.4,0.4M629.1,531.0l1.1,-1.0M629.4,529.6l0.9,-0.6M629.6,528.1l1.1,1.3M630.0,526.2l0.2,1.2M631.1,525.2l-0.2,-0.9M633.2,523.1l-0.8,-1.2" stroke="#000" stroke-width="1" fill="none"/>
<path d="M742.3,687.0L746.0,688.0L750.0,686.6L755.6,683.8L758.4,679.6L764.0,679.6L765.4,684.1L775.0,684.1L782.0,688.5L776.6,692.2L771.0,697.8L765.4,703.4L761.2,707.6L755.6,711.8L751.4,715.3L749.0,714.0L746.0,710.0L742.3,703.3L740.0,698.7L744.7,692.8Z" fill="#fff"/>
<path d="M751.5,688v1M751.5,712v2M751.5,706v1M752.5,685v1M749,689.5h1M756.5,695v2M746,706.5h2M758.5,684v1M749,702.5h1M761,682.5h2M758.5,694v2M751.5,699v2M760.5,684v1M751.5,705v1M751,710.5h1M750.5,696v2M747.5,693v2M757.5,708v2M759,688.5h1M747,697.5h1M747,700.5h1M744.5,694v1M752.5,706v1M754,703.5h1M758.5,688v2M764,691.5h1M750.5,688v1M748,701.5h2M753.5,710v1M756.5,688v1M748.5,689v2M762.5,682v1M757,695.5h2M763,688.5h2M757,699.5h1M762,702.5h1M746,699.5h1M755,705.5h1M762,681.5h2M758.5,707v2M752,689.5h1M764,691.5h1M765,690.5h2M753,699.5h2M747.5,704v2M761.5,681v2M746,703.5h2M764,690.5h2M749,694.5h1M765.5,693v2M758,695.5h1M746,690.5h2M753.5,704v2M759.5,702v2M755.5,706v1M760,681.5h2M752,690.5h1M761,703.5h2M753.5,693v1M754,698.5h2M761,697.5h1M758.5,683v2M749,689.5h1M756,708.5h1M761,703.5h1M748,689.5h1M760,687.5h2M746,697.5h2M754,695.5h2M757,691.5h1M745.5,695v2M764,688.5h2M755.5,690v1M757.5,702v2M758.5,701v1M754.5,688v1M745,703.5h1M752.5,689v2M750.5,709v1M763,690.5h2M746,692.5h1M749.5,709v2M763.5,682v2M754.5,685v2M747,697.5h1M758.5,702v1M762.5,691v1M764,687.5h1M751,709.5h2M754,701.5h1M751,699.5h1M746,687.5h1M754,684.5h2M747,711.5h2M752,696.5h2M743,695.5h2M748.5,707v2M745,689.5h1M757.5,707v1M743,689.5h1M744.5,689v1M749.5,702v2M761,701.5h2M752.5,688v2M764,701.5h2M763.5,696v2M749.5,701v1M758.5,688v1M761.5,694v2M754,708.5h1M753,709.5h2M752.5,705v1M762.5,683v2M748,702.5h1M746.5,703v1M746,703.5h2M764,688.5h1M750,687.5h2M759.5,700v1M747.5,694v2M742.5,694v1M746.5,696v1M762.5,700v2M752,691.5h2M763,688.5h2M758,698.5h1M747,711.5h1M761.5,686v1M759,688.5h2M754,694.5h1M762,702.5h1M751.5,699v1M749.5,694v2M759.5,704v1M757,694.5h2M744,693.5h1M756,685.5h1M753,702.5h1M752,693.5h2M748,710.5h2M754.5,712v2M743,695.5h1M764.5,680v2M748,690.5h1M758,686.5h1M749,699.5h2M748,712.5h2M765.5,687v2M756.5,703v2M748.5,694v2M743.5,703v1M766.5,689v1M754.5,696v1M758,695.5h1M763,684.5h1M749.5,696v1M748.5,704v1M742.5,693v2M751,693.5h1M758,682.5h2M755,692.5h1M751,703.5h1M762,689.5h1M748,691.5h1M762,683.5h1M747,702.5h2M756.5,699v2M759.5,685v1M752,704.5h2" stroke="#000" stroke-width="1" fill="none"/>
<path d="M765.5,684.5H813" stroke="#000" stroke-width="1" fill="none"/>
<path d="M732.5,692v1M731,703.5h1M719.5,701v1M732,699.5h1M730,692.5h1M736,691.5h1M733,694.5h1M729,693.5h1M719.5,700v1M739,693.5h1M735.5,704v1M739,697.5h1M733,702.5h1M734,692.5h1M732,703.5h1M735.5,704v1M732.5,706v1M729,695.5h1M738,702.5h1M719.5,704v1M740.5,691v1M726,697.5h1M734.5,703v1M718,693.5h1M738,701.5h1M720,693.5h1M724.5,693v1M718,700.5h1M731.5,703v1M720.5,705v1M732,699.5h1M735.5,704v1M720,702.5h1M725,693.5h1M719,705.5h1M732,706.5h1M735.5,699v1M739.5,690v1M727,691.5h1M730.5,703v1M736,690.5h1M741.5,696v1M732.5,692v1M728,700.5h1M726.5,705v1M731.5,704v1M736.5,702v1M718,704.5h1M737,704.5h1M742,691.5h1M740,703.5h1M741.5,702v1" stroke="#000" stroke-width="1" fill="none"/>
<path d="M742.3,687.0L746.0,688.0L750.0,686.6L755.6,683.8L758.4,679.6L764.0,679.6L765.4,684.1" fill="none" stroke="#000" stroke-width="1.5"/>
<path d="M742.3,687.0l-1.4,0.9M744.6,687.6l-0.9,2.2M745.8,687.9l-1.4,-2.0M746.0,688.0l-1.7,-1.6M747.1,687.6l1.9,1.7M748.3,687.2l2.3,1.0M749.4,686.8l1.8,0.8M750.0,686.6l-0.9,-2.1M752.1,685.5l-0.4,-1.9M754.3,684.5l-0.0,2.4M755.4,683.9l-0.8,1.9M755.6,683.8l1.4,1.6M756.3,682.8l-1.0,-1.4M756.9,681.8l-2.0,0.3M757.6,680.8l-1.9,-1.6M758.3,679.8l-2.5,-0.4M758.4,679.6l-1.2,1.6M762.0,679.6l1.7,2.1M763.2,679.6l0.2,1.6M764.0,679.6l1.8,-1.0M764.4,680.7l1.9,-2.3M764.7,681.9l1.7,0.7M765.1,683.0l-0.7,2.3" stroke="#000" stroke-width="1.3" fill="none"/>
<path d="M704.2,664.0L709.8,664.0L715.4,666.8L721.0,669.6L725.2,673.8L726.6,679.4L722.4,682.9L716.8,682.2L712.6,678.0L708.4,672.4L705.6,668.2Z" fill="#000"/>
<path d="M719.5,679v2M718.5,674v2M705,666.5h1M715.5,679v2M724.5,674v1M722,676.5h1M718,679.5h2M719.5,672v1M717.5,671v1M719.5,670v2M707.5,666v1M714,675.5h1M720.5,673v2M713,677.5h2M717,681.5h2M709,670.5h2M709,671.5h2M718.5,674v1M710,666.5h2M709,672.5h1M707.5,670v1M708,669.5h1" stroke="#fff" stroke-width="1" fill="none"/>
<path d="M695.8,645.8L701.4,643.0L702.8,638.1L706.3,638.8L707.0,642.3L714.0,643.0L714.0,645.1L708.4,646.5L702.8,645.8L698.6,647.2Z" fill="#000"/>
<path d="M641.9,591.9L647.5,594.7L653.1,600.3L658.7,605.2L665.7,606.6L671.3,609.4L676.9,612.9L681.8,615.7L683.9,619.9L686.7,619.9L685.3,623.7L681.8,624.8L676.2,621.3L669.2,617.1L662.2,612.9L655.2,609.4L650.3,611.1L646.8,605.9L643.6,599.6Z" fill="#000"/>
<path d="M660,610.5h1M649.5,609v2M645,595.5h2M650.5,600v1M672,615.5h2M663,607.5h1M679,620.5h1M668.5,612v2M647.5,603v1M647.5,598v1M680,619.5h2M648,596.5h1M682.5,617v2M664.5,608v2M685.5,622v1M656.5,610v1M645.5,595v1M672.5,615v2M684,624.5h2M643.5,594v1M682.5,619v1M677.5,617v1M650.5,598v2M673.5,611v2M663,613.5h1M658,606.5h2M657.5,608v1M644.5,597v1M678.5,617v2M671,617.5h1M653.5,601v1" stroke="#ccc" stroke-width="1" fill="none"/>
<path d="M641.9,591.9l-1.2,1.2M643.1,592.5l-1.7,0.4M644.2,593.1l-0.5,1.9M645.4,593.6l-0.0,-2.2M648.4,595.6l2.1,-0.0M649.3,596.5l2.1,0.2M650.3,597.5l0.4,-1.3M651.2,598.4l1.9,-1.1M655.1,602.0l1.9,0.1M656.0,602.9l-1.2,1.3M658.0,604.6l0.1,-2.0M658.7,605.2l1.1,1.4M661.2,605.7l0.5,-2.0M662.5,606.0l0.1,1.5M663.8,606.2l0.0,2.2M665.1,606.5l-0.5,1.4M665.7,606.6l1.0,-1.9M668.0,607.8l0.9,1.9M670.4,608.9l2.0,-1.0M671.3,609.4l-0.4,1.2M672.4,610.1l0.8,-1.7M674.6,611.5l-1.4,1.5M675.7,612.2l-0.3,-2.4M676.8,612.8l0.3,-2.2M676.9,612.9l0.4,2.6M678.0,613.5l1.4,-1.1M679.2,614.2l2.3,-1.1M681.4,615.5l-0.3,-1.5M681.8,615.7l0.8,-0.9M686.5,619.9l1.7,-1.2M686.7,619.9l2.1,0.3M685.8,622.3l1.9,-0.9M685.4,623.6l-1.3,-0.8M682.8,624.5l-0.9,-1.8M681.8,624.8l-1.3,1.3M676.2,621.3l-1.4,1.5M675.1,620.6l0.7,-1.6M672.9,619.3l0.5,-1.0M670.6,618.0l1.0,-1.2M669.2,617.1l-1.7,0.6M667.0,615.8l2.1,-0.7M663.6,613.8l-0.9,1.7M662.5,613.1l-0.8,1.9M662.2,612.9l-2.1,0.8M661.0,612.3l-0.6,1.1M657.5,610.6l-1.1,1.2M656.4,610.0l-0.8,0.9M655.2,609.4l-0.2,-1.9M654.0,609.8l-0.8,1.8M652.7,610.3l-0.7,1.4M648.1,607.9l2.1,-0.0M647.4,606.8l-0.8,1.0M645.6,603.6l-1.6,-0.5M645.0,602.4l-1.6,1.0M644.4,601.3l-1.9,0.2M643.6,599.6l0.8,-1.8M643.3,598.3l1.5,1.4M643.0,597.1l2.1,1.3M642.8,595.8l2.0,0.5M642.5,594.5l-1.8,-1.2M642.2,593.3l1.6,-0.9M641.9,592.0l-1.2,0.4" stroke="#000" stroke-width="1.1" fill="none"/>
<path d="M636.0,755.1L637.4,750.2L641.6,744.6L648.6,739.0L655.6,734.8L662.6,730.6L669.6,727.1L678.0,727.1L686.4,728.5L691.3,732.0L692.0,737.6L689.2,742.5L685.0,746.7L678.0,747.4L671.0,748.1L664.0,749.5L658.4,752.3L652.8,755.1L647.2,756.5L640.2,756.5Z" fill="#fff"/>
<path d="M686.5,739v3M686.5,746v1M644,754.5h3M658,748.5h2M678,743.5h1M655,740.5h3M685,733.5h2M654,749.5h1M646.5,743v3M669,732.5h3M658,749.5h2M638.5,750v2M646.5,749v3M662.5,748v1M673,738.5h2M639.5,756v2M652.5,745v3M658,736.5h3M684,739.5h3M679.5,736v2M682.5,731v3M653.5,747v1M667.5,745v3M688,732.5h1M663.5,741v2M671,739.5h3M691.5,740v3M645.5,750v1M638,751.5h3M671,730.5h3M680,733.5h2M662,731.5h2M654.5,737v1M650.5,750v3M671,732.5h1M637,754.5h1M663,733.5h3M672,739.5h2M672,729.5h2M641,752.5h1M678,747.5h2M656.5,749v3M640,749.5h2M657.5,743v2M688.5,739v3M659,741.5h2M642.5,755v2M660,745.5h1M654.5,744v3M673.5,739v1M657.5,743v1M649,749.5h3M681,742.5h1M675.5,739v3M645,756.5h2M678.5,742v1M644,744.5h3M687,744.5h2M653,741.5h3M670,739.5h3M663,731.5h1M674.5,740v3M672.5,742v1M648.5,744v1M652.5,740v1M664.5,747v2M668.5,735v3M676.5,734v3M665,736.5h3M637,751.5h1M645,750.5h2M672.5,742v1M685.5,730v1M653,753.5h3M639,749.5h2M649.5,753v1M675,745.5h2M637,751.5h3M664.5,731v1M686.5,735v1M684,746.5h3M686,740.5h3M649.5,751v1M641.5,754v1M691,739.5h2M685.5,733v1M653,740.5h3M664,733.5h3M677.5,742v2M689,733.5h3M641,751.5h1M652.5,746v2M680,737.5h2M687,733.5h2M662.5,742v2M689.5,735v3M681.5,728v2M675,742.5h1M650.5,751v2M670,733.5h2M669.5,733v2M655.5,753v3M685.5,745v1M650,744.5h2M652,743.5h2M646.5,753v1M653,751.5h1M680,746.5h2M653.5,738v2M674.5,734v2M676,734.5h1M642.5,753v2M665,736.5h3M647,752.5h2M678,732.5h1M642,746.5h1M650,751.5h1M666.5,747v2M662.5,737v3M661.5,735v3M673.5,745v3M660.5,741v3M672.5,741v1M663.5,739v2M665.5,745v2M675.5,746v2M667.5,737v1M662,734.5h2M677.5,732v2M651,739.5h3M684.5,740v1M674,734.5h1M649.5,742v2M642,751.5h1M687,741.5h2M669.5,734v2M682.5,745v2M675,727.5h2M686,739.5h3M685,742.5h2M671,739.5h2M689,733.5h2M670,739.5h2M675,745.5h1M647.5,756v3M676,736.5h3M649,756.5h3M658,748.5h2M644,747.5h1M656,741.5h2M661,742.5h2M680,731.5h2M663.5,748v1M690.5,738v1M667,746.5h3M663.5,743v2M657,747.5h2M664,739.5h2M684.5,735v1M662.5,748v1M649.5,747v1M667.5,729v2M648,753.5h2M654.5,745v1M682,729.5h2M675.5,736v3M681.5,731v2M644.5,748v1M666.5,746v2M686,733.5h3M641.5,752v1M683,729.5h1M641.5,754v2M681,737.5h2M668,742.5h1M648.5,740v2M681.5,734v2M670.5,729v1M680,741.5h2M666.5,736v3M682,742.5h3M688,732.5h2M677.5,732v1M644,743.5h1M672,733.5h2M647,743.5h1M667.5,743v2M680.5,728v3M682,741.5h2M685,738.5h3M662.5,732v1M647.5,756v1M659,743.5h3M641,750.5h2M683.5,742v3M673.5,738v3M664,735.5h1M667,734.5h3M677.5,732v1M680.5,744v1M664.5,743v1M685.5,744v2M673,739.5h3M690.5,737v1M675,736.5h1M674.5,728v2M662.5,748v3M671.5,730v1M666,743.5h1M659.5,748v1M656.5,746v2M672,744.5h1M645,752.5h1M663,739.5h3M686,733.5h2M679.5,729v1M671,735.5h2M674,727.5h3M677,746.5h2M641,751.5h1M652,742.5h1M672,729.5h1M683,738.5h3M656,751.5h2M680,734.5h1M680,746.5h1M639,754.5h1M681.5,741v1M679,734.5h2M639,754.5h3M680,738.5h3M678,733.5h2M689.5,734v1M678.5,740v3M657,736.5h2M650,740.5h3M681.5,745v1M641.5,755v3M673.5,747v1M639,754.5h1M667.5,739v2M644.5,753v3M687,733.5h1M680.5,742v1M663.5,732v3M637.5,754v2M681,735.5h1M663.5,746v3M640,747.5h1M677.5,736v1M655.5,748v2M649,750.5h2M645.5,750v2M690,732.5h1M647,751.5h3M680.5,738v2M645.5,750v3M654,739.5h2M676,734.5h2M671,732.5h3M669,732.5h1M683.5,735v2M643,750.5h2M646,753.5h2M664,746.5h3M688,738.5h2M647,753.5h3M648.5,742v1M645.5,754v2M676,746.5h1M686,745.5h1M653.5,737v1M674,734.5h1M682.5,730v2M654,753.5h2M682,747.5h3M674,738.5h1M656.5,743v3M644,745.5h2M681.5,736v3M659.5,749v2M655.5,750v3M654.5,743v1M661.5,736v1M667.5,735v1M670.5,731v3M676.5,744v3M656.5,742v2M653.5,753v1M677.5,729v1M639.5,753v2M662.5,731v3M654.5,740v3M683.5,743v1M651,749.5h3M678,746.5h2M648.5,753v1M659,740.5h2M659,750.5h1M670.5,730v3M681.5,728v2M656,750.5h1M658,749.5h3M665,737.5h3M690,737.5h2M676.5,736v3M640,752.5h3M660.5,739v3M678,728.5h3M637.5,754v3M671.5,732v1M667,748.5h1M654,740.5h3M648,745.5h1M684,733.5h3M654.5,744v1M655,741.5h3M654.5,749v3M666.5,744v2M671.5,732v1M673,747.5h2M679.5,741v3M673,742.5h3M646,748.5h3M673,745.5h1M664.5,741v2M647.5,742v3M670.5,738v3M638.5,752v3M643,752.5h2M663.5,733v2M648.5,741v2M688,739.5h2M679.5,736v3M660.5,733v3M645.5,749v3M669,731.5h3M649.5,740v2M641.5,752v2M691,735.5h1M669,744.5h2M675.5,745v1M643,753.5h2M690,739.5h3M664.5,749v1M676.5,743v2M656,740.5h3M679.5,734v3M642.5,746v2M655,750.5h1M683,747.5h3M668.5,739v1M671,748.5h3M661,745.5h1M667,735.5h1M645,750.5h2M646,743.5h3M646.5,748v3M667.5,733v3M659.5,737v2M659.5,745v1M663,744.5h3M653.5,751v1M659,735.5h3M681,728.5h1M679.5,730v3M690,740.5h2M670.5,736v1M668,731.5h1M676.5,742v2M660,743.5h1M665.5,731v1M687.5,733v3M681.5,729v2M648,746.5h1M654,745.5h2M644.5,746v3M677.5,735v1M667,741.5h3M645,742.5h3M676,746.5h3M659,743.5h1M657,738.5h2M675.5,745v2M647,746.5h2M665,738.5h3M664.5,737v1M668.5,743v1M672.5,728v2M685,742.5h3M688.5,741v2M670.5,747v1M644,752.5h2M691.5,737v3M680.5,732v3M655.5,749v1M687.5,732v2M661.5,750v2M686,733.5h2M642.5,747v3M653.5,752v2M651,745.5h2M640.5,749v3M669,744.5h3M677.5,729v1M691.5,737v2M673,729.5h3M678,739.5h1M669,748.5h1M677,737.5h2M666.5,746v2M639,755.5h2M658,734.5h1M675,730.5h2M637,752.5h2M673,727.5h1M667.5,747v2M670.5,743v2M688,733.5h3M659.5,745v3M655.5,752v3M641,755.5h2M643,749.5h2M687,736.5h1M648,748.5h1M677.5,740v1M674.5,737v1M671,729.5h2M664,749.5h3M683.5,731v3M662.5,750v2M675.5,740v2M646.5,742v2M681,739.5h3M660.5,750v1M664.5,735v2M661,739.5h3M672.5,740v2M637,754.5h2M667,743.5h3M645.5,743v2M682.5,733v2M654.5,749v3M669,736.5h1M647.5,744v1M639.5,753v1M639,751.5h3M686.5,734v1M649.5,755v1M649,739.5h3M679,731.5h1M662.5,741v3M675.5,728v1M665,737.5h3M642.5,756v3M674.5,747v2M675,743.5h2M683,735.5h1M669,734.5h2M660.5,737v3M677.5,730v1M649,753.5h2M656.5,740v3M664,748.5h3M639,749.5h1M655.5,748v3M666.5,731v3M685,744.5h1M674.5,739v3M689,731.5h1M677.5,746v3M678.5,745v2M655,754.5h1M675.5,736v1M668,734.5h3M642.5,747v3M652,749.5h3M670.5,740v2M641.5,754v3" stroke="#000" stroke-width="1" fill="none"/>
<path d="M603.5,752.5h5v3h-5z" fill="#fff" stroke="#000" stroke-width="1"/>
<path d="M530,748.5h3v3h-3z" fill="#fff"/>
<path d="M703.3,738.3L708.5,735.4L714.3,733.1L720.2,730.8L726.0,729.0L728.3,730.2L723.7,733.1L717.8,736.0L712.0,738.3L707.3,740.7L704.4,740.7Z" fill="#fff"/>
<path d="M712.5,734v2M704.5,739v2M709,739.5h1M706.5,739v1M724.5,732v1M710.5,738v1M717,735.5h2M717.5,734v1M723.5,730v2M719,735.5h2M725.5,731v2M723,733.5h2M714,737.5h2M705.5,739v2M721,733.5h1M709.5,739v1M716,736.5h1M707.5,740v1M720,734.5h1M705.5,738v2M722,733.5h2M715.5,734v2M724.5,732v2M713.5,737v1M718.5,734v1M706,740.5h2M715,737.5h2M723,733.5h1M716.5,735v2M708,740.5h1M716.5,734v2M726.5,730v1M716,734.5h1M716,734.5h1M724,731.5h2M720,732.5h1M719.5,735v2M721,734.5h2M723,730.5h1M706,739.5h1M724.5,731v2M716.5,736v2M714.5,736v1M712.5,738v1M720.5,734v2M706.5,740v1M717.5,733v1M711,737.5h1" stroke="#000" stroke-width="1" fill="none"/>
<rect x="732.5" y="725.5" width="3" height="2" fill="#fff" stroke="#000" stroke-width="0.8"/>
<rect x="738.5" y="724.0" width="3" height="2" fill="#fff" stroke="#000" stroke-width="0.8"/>
<rect x="741.5" y="722.5" width="2" height="2" fill="#fff" stroke="#000" stroke-width="0.8"/>
<rect x="746.5" y="717.5" width="3" height="2" fill="#fff" stroke="#000" stroke-width="0.8"/>
<rect x="748.5" y="716.0" width="2" height="2" fill="#fff" stroke="#000" stroke-width="0.8"/>
<path d="M483.5,200.0l-1.7,1.1M483.5,201.2l1.7,-0.4M483.5,203.6l1.7,0.3M483.5,204.8l-2.2,1.7M483.5,207.2l-1.4,1.1M483.5,208.2l-0.4,2.0M486.3,210.5l-0.3,2.2M487.0,211.1l1.8,-1.6M490.4,212.3l0.3,-1.3M491.5,212.7l-1.5,1.1M492.7,213.5l0.2,-2.4M493.7,214.1l-0.1,1.8M494.7,214.8l2.0,-1.3M497.3,216.4l1.8,-0.9M501.0,218.7l-1.3,1.0M501.5,219.8l1.1,-1.6M502.1,220.8l-0.8,2.3M502.6,221.9l1.6,-0.4M503.3,223.3l-1.7,1.2M504.0,224.3l-0.8,1.9M504.7,225.2l0.3,-2.3M505.5,226.2l1.6,-0.9M506.2,227.1l-1.3,1.9M506.8,228.0l-1.9,-1.7M506.8,230.4l2.0,1.0M506.8,231.6l-2.0,-0.6M506.8,232.7l0.6,-1.7M508.0,233.0l-0.1,2.0M509.1,233.2l-0.7,-1.4M510.3,233.5l-0.3,-1.3M511.5,233.8l1.2,-1.2M511.5,233.8l-1.6,1.5M512.3,234.6l-0.6,2.2M513.2,235.5l1.6,-1.1M514.0,236.3l-0.7,1.9M515.0,237.3l2.3,0.3M515.7,238.3l0.8,-2.0M517.0,240.3l-1.5,1.1M517.3,240.8l0.9,1.6M516.9,241.9l1.5,-0.9M516.6,243.1l1.5,1.0M516.2,244.2l1.2,1.6M516.2,244.3l1.1,-1.7M517.2,245.0l-0.2,-1.5M519.2,246.3l0.2,1.7M519.7,246.7l-0.4,-1.6M520.8,246.3l-1.0,-0.8M522.0,245.9l-1.2,-1.4M523.1,245.5l1.4,0.9M523.2,245.5l0.4,-1.9M524.4,245.6l-0.2,-1.2M525.6,245.7l-1.8,1.0M526.8,245.9l-0.1,-1.2M528.0,246.0l0.1,-1.3M529.0,246.1l0.1,-1.7M532.6,246.4l-0.1,1.1M533.8,246.5l1.0,-1.6M536.0,246.7l0.0,-1.4M538.4,246.7l0.8,-1.3M539.6,246.7l0.5,-1.9M540.8,246.7l0.9,1.2M541.5,247.9l-1.5,1.2M541.2,249.0l1.8,1.7M540.7,251.3l-1.3,0.4M541.4,252.3l0.3,-2.2M542.0,253.3l-0.6,1.5M543.0,254.8l-1.8,-0.1M543.5,255.9l2.2,0.3M544.1,257.0l-1.1,1.2M544.6,258.0l-1.7,1.0M546.0,260.5l-2.5,-0.3M547.3,262.5l1.9,0.2M547.7,263.0l-2.3,-1.1M548.1,264.1l-1.3,0.1M548.4,265.3l-1.2,0.6M548.8,266.4l1.4,-1.2M549.9,268.6l-1.1,0.5M550.4,269.7l1.6,-1.0M551.0,270.8l1.7,0.4M553.2,272.5l-2.1,0.9M554.2,273.2l1.0,-1.1M554.7,273.5l1.5,0.1M556.1,275.4l0.9,-1.2M556.9,276.4l2.1,0.0M557.6,277.3l1.8,0.2M558.4,280.6l-1.5,-0.8M558.6,281.8l1.3,-0.0M558.8,284.0l1.9,0.4M558.7,285.2l-1.4,-1.3M558.6,286.4l-1.8,-1.9M558.4,287.6l-1.5,-0.3M558.2,290.0l1.6,-1.0M558.0,292.4l1.7,-1.6M557.9,293.6l2.1,-0.9M557.7,296.0l-1.8,-1.7M557.6,297.0l-2.3,1.5M557.4,299.4l1.7,-1.5M557.3,300.6l1.3,0.1M557.2,301.8l1.4,1.3M557.1,303.0l-1.8,1.4M557.0,306.4l-2.1,-0.7M557.0,308.8l1.4,0.6M557.0,310.0l2.1,0.8M557.0,311.0l-1.3,0.7M556.8,312.2l-1.3,-0.6M556.6,313.4l1.4,-1.3M556.4,314.5l-1.1,-1.7M556.2,315.7l1.1,0.6M555.8,318.0l2.2,-1.0M555.6,319.2l-1.9,-0.5M555.4,320.4l-1.2,-0.3M554.9,322.7l1.0,1.5M554.7,323.8l0.9,1.6M554.2,324.9l1.3,0.1M553.8,326.0l-1.8,0.3M552.9,328.2l1.6,-0.2M552.4,329.4l1.1,1.9M552.3,329.7l1.6,-1.2M552.0,330.9l-1.9,-1.1M551.3,333.2l1.5,2.0M550.9,334.3l-1.0,-2.1M550.6,335.5l-1.4,0.3M550.6,335.5l1.0,1.6M549.7,337.7l-0.8,-2.0M548.9,340.0l2.0,-0.1M548.8,340.2l-0.8,-2.0M548.4,341.3l-2.1,-0.4M548.0,342.5l1.9,0.3" stroke="#000" stroke-width="1.3" fill="none"/>
<path d="M483.5,200.0L483.5,208.2L487.0,211.1L491.7,212.8L496.3,215.8L501.0,218.7L503.3,223.3L506.8,228.0L506.8,232.7L511.5,233.8L515.0,237.3L517.3,240.8L516.2,244.3L519.7,246.7L523.2,245.5L529.0,246.1L536.0,246.7L541.8,246.7L540.7,251.3L543.0,254.8L545.3,259.5L547.7,263.0L548.8,266.5L551.2,271.2L554.7,273.5L558.2,278.2L558.8,284.0L558.2,290.0L557.6,297.0L557.0,304.0L557.0,311.0L555.8,318.0L554.7,323.8L552.3,329.7L550.6,335.5L548.8,340.2L547.1,344.8" fill="none" stroke="#000" stroke-width="2"/>
<path d="M547.6,272.0L553.1,272.6L558.6,276.5L559.1,283.1L558.0,291.9L558.6,299.6L557.5,307.3L558.0,316.2L555.3,318.4L553.1,311.7L549.8,302.9L548.7,296.3L550.9,288.6L548.7,283.1L547.6,277.6Z" fill="#000"/>
<path d="M548.8,272.1l1.2,1.9M550.0,272.3l1.4,2.1M551.2,272.4l0.3,1.2M552.4,272.5l-1.5,1.2M553.1,272.6l0.0,1.5M554.1,273.3l2.1,-0.8M556.0,274.7l1.1,-1.3M557.0,275.4l0.0,-1.8M558.0,276.1l1.5,-0.4M558.6,276.5l-1.5,-1.5M558.7,277.7l-1.6,-0.9M558.8,278.9l-1.2,0.4M558.9,280.1l-1.5,0.3M559.1,283.1l1.8,1.3M559.0,284.3l2.0,-0.6M558.8,285.5l1.7,1.5M558.7,286.7l-1.7,0.3M558.5,287.9l1.8,-0.2M558.4,289.1l1.2,-1.0M558.1,291.4l1.6,-0.9M558.0,291.9l1.1,0.9M558.1,293.1l1.6,-0.7M558.2,294.3l1.1,-1.4M558.4,296.7l1.8,1.0M558.5,297.9l-1.5,1.3M558.6,299.1l-1.3,-1.2M558.6,299.6l-1.5,-1.2M558.3,302.0l1.8,0.4M558.1,303.2l1.5,0.8M557.9,304.4l1.4,1.6M557.8,305.5l1.6,-1.2M557.6,308.5l1.0,-0.8M557.6,309.7l-1.9,-0.7M557.7,310.9l-1.3,0.7M557.8,313.3l1.6,0.8M557.9,314.5l1.5,-0.0M556.1,317.7l0.5,1.0M555.3,318.4l-1.5,-0.5M554.9,317.3l-1.0,0.6M554.6,316.1l2.3,0.7M554.2,315.0l-1.6,-0.4M553.8,313.8l-1.4,0.5M552.3,309.5l-0.8,1.0M551.8,308.3l-1.7,-0.3M551.4,307.2l-2.0,0.2M551.0,306.1l-1.8,-0.2M550.6,305.0l-1.3,1.6M549.8,302.9l1.5,0.1M549.2,299.3l1.7,0.9M548.8,297.0l1.1,0.5M549.0,295.1l-1.3,0.3M549.7,292.8l1.0,0.6M550.0,291.7l-0.9,-1.7M550.3,290.5l-1.5,-2.0M550.7,289.4l-1.5,1.1M550.9,288.6l1.6,-1.3M549.6,285.3l1.1,-1.4M549.1,284.1l0.8,-1.5M548.7,283.1l-1.4,-0.7M548.5,281.9l1.6,-0.5M548.2,280.7l-0.9,1.0M548.0,279.6l-1.5,1.9M547.8,278.4l-1.7,-0.1M547.6,277.6l-1.7,1.4M547.6,276.4l-1.4,-0.1M547.6,275.2l1.2,1.5M547.6,274.0l-1.3,0.1M547.6,272.8l1.8,0.1" stroke="#000" stroke-width="1.3" fill="none"/>
<path d="M555.5,313v2M553.5,305v2M556.5,312v1M548,274.5h1M550.5,278v2M551,279.5h2M549,274.5h2M550.5,279v1M556,315.5h2M557.5,281v2M555.5,294v2M550,281.5h2M555,275.5h2M550.5,293v1M558,294.5h2M557.5,298v1M551.5,292v2M555,308.5h2M556.5,284v2M554,279.5h2M555.5,290v1M553,297.5h2M555.5,291v1M552.5,283v2M551.5,288v1M556.5,299v1M554.5,298v1M553.5,296v2M552.5,291v1M554,274.5h2M555,309.5h2M552.5,282v1M550.5,291v1M558,289.5h1M555,293.5h1M553,299.5h2M558.5,282v1M551.5,288v1" stroke="#ccc" stroke-width="1" fill="none"/>
<path d="M553.3,433.8l-0.5,1.8M554.0,435.1l1.0,-1.0M557.3,439.9l1.5,-1.1M558.3,440.9l0.5,-1.4M559.4,442.0l-1.7,0.8M560.5,443.0l-2.2,0.2M561.5,444.1l0.0,1.6M563.3,446.3l1.3,-0.1M564.0,447.6l0.8,-1.4M565.6,450.1l-1.4,0.3M566.4,451.4l0.9,-1.0M567.0,452.5l1.9,0.3M567.6,453.9l0.7,-1.6M568.1,455.3l-1.3,0.4M568.7,456.7l-1.8,0.2M569.2,458.1l1.4,0.4M571.4,462.7l-1.3,0.2M572.0,464.0l1.0,-1.8M572.7,465.4l1.5,0.3M573.4,466.7l-1.6,0.1M575.1,470.2l1.8,-0.3M575.8,471.5l-2.0,0.0M576.5,472.9l1.0,-0.3M577.1,474.2l0.7,-0.9M577.5,475.0l-2.0,-0.2M578.2,476.3l-1.2,1.1M579.0,477.6l-1.7,0.4M579.7,478.9l-0.8,0.5M580.5,480.2l-1.0,0.4M581.9,482.8l1.0,-1.2M582.5,483.8l-1.9,-0.5M583.2,485.1l-0.9,1.8M584.0,486.4l-1.6,0.4M587.5,492.5l1.0,-1.3M588.2,493.8l1.4,0.1M589.7,496.4l-0.8,0.4M590.5,497.7l1.6,-0.3M591.2,499.0l-1.7,0.6M592.5,501.2l-1.6,-0.4M592.9,502.6l1.1,-0.6M593.3,504.1l0.9,-0.7M593.7,505.5l0.8,-0.7M594.1,507.0l-1.3,-0.0M594.5,508.4l1.5,0.9M595.0,509.9l-1.1,-0.2" stroke="#000" stroke-width="1.2" fill="none"/>
<path d="M552.5,432.5L556.2,438.8L562.5,445.0L567.0,452.5L570.0,460.0L573.8,467.5L577.5,475.0L582.5,483.8L587.5,492.5L592.5,501.2L595.0,510.0" fill="none" stroke="#000" stroke-width="2"/>
<path d="M605.0,546.2l0.1,1.6M609.3,547.7l1.4,-0.6M612.5,548.8l-0.6,-0.9M617.9,546.1l-0.3,-0.9M620.0,545.0l0.4,-1.0M621.5,544.7l-0.2,1.4M624.4,544.1l-0.0,1.5M625.9,543.9l-0.9,-1.0M627.4,544.7l-0.2,1.1M628.6,545.6l-0.1,-1.4M631.2,547.5l1.1,-1.0M631.8,548.9l-0.8,0.2M632.4,550.2l0.7,-1.3M633.0,551.6l-1.4,-0.2M633.6,553.0l1.6,-0.1M634.2,554.4l1.0,-0.3M635.0,556.2l-1.3,-0.2M635.8,560.6l-1.0,1.3M636.0,562.1l1.2,0.3M636.3,563.6l-1.0,1.4M637.0,567.5l1.1,-0.3M637.2,569.0l0.8,-0.8M637.7,573.5l-1.2,1.2M637.8,575.0l-1.1,-0.4M638.0,576.4l-1.0,1.0M638.2,577.9l0.8,-0.2M638.3,579.4l1.3,0.2M638.6,581.5l-1.3,1.0M639.1,585.6l1.2,-0.6M639.8,586.9l0.4,-1.5M640.4,588.3l1.0,-1.2M641.1,589.6l0.8,-1.0M643.2,595.5l-0.7,1.4" stroke="#000" stroke-width="1.2" fill="none"/>
<path d="M687.5,630.9l1.6,0.5M688.2,632.2l-1.3,-0.4M690.5,635.7l-0.5,1.6M691.6,637.4l-0.3,1.2M692.3,638.7l1.0,-0.7M693.6,641.4l-1.4,-0.1M694.2,643.0l-0.7,0.6M694.8,644.4l0.8,-1.6M695.8,647.2l1.1,-0.6M696.2,648.7l-1.3,0.2M696.5,650.1l0.6,-0.9M697.2,652.8l-0.7,0.4M697.6,654.3l-1.2,1.1M698.3,657.2l-1.1,0.5M699.0,659.9l-1.6,-0.7M699.3,661.3l-1.4,-0.3M700.4,665.5l1.0,0.5M700.7,666.9l0.9,-1.4M701.4,669.6l-0.8,-0.7M701.0,672.6l1.2,0.3M700.7,675.2l1.6,0.7M700.9,676.7l1.1,-1.0M701.1,678.2l1.5,0.8M701.3,679.7l1.4,-0.9M701.4,680.8l-0.8,1.6M703.4,684.8l0.7,-0.3M704.1,686.2l-0.9,1.0M706.3,688.5l-1.5,0.0M708.4,690.6l0.6,1.1M711.4,690.8l0.7,1.1M712.9,690.8l0.9,-0.9M714.4,690.9l-1.2,1.4M715.9,691.0l-0.1,-1.3M717.4,691.1l0.0,1.0M718.9,691.2l-0.5,-1.3M720.4,691.3l-1.3,1.4M722.5,691.1l0.4,1.0M726.6,690.6l1.4,0.2M733.8,687.4l-0.2,-1.3M736.4,687.7l-1.4,0.8M740.2,688.7l-0.8,-1.1M741.7,688.5l-1.2,-1.1M743.2,688.3l-1.0,-1.0M750.0,686.6l0.9,0.5M751.3,685.9l-0.4,-1.4M752.7,685.3l-0.5,-1.0M757.3,681.3l1.3,-0.3M758.1,680.1l-1.2,0.1M758.4,679.6l0.0,0.9M761.4,679.6l0.7,-1.5M771.4,684.1l-0.8,-0.9M774.4,684.1l0.1,1.1M778.9,684.1l-0.5,-1.2M780.4,684.1l-0.7,-0.9M781.9,684.1l0.1,-1.5M783.4,684.1l-0.2,-1.2M786.4,684.1l-0.9,-0.9M789.4,684.1l-0.7,1.4M792.4,684.1l0.3,1.2" stroke="#000" stroke-width="1.2" fill="none"/>
<path d="M85.5,122.0L97.0,120.5L109.0,118.3L120.0,116.5L131.0,115.0L146.5,112.3L159.0,111.0L172.0,111.5L185.0,113.0L197.5,115.6L210.0,118.8L222.5,122.5L235.0,127.0L242.5,132.0L248.8,136.2L255.0,140.6L261.2,146.2L267.5,151.2L273.8,155.6L280.0,159.4L286.2,161.2" fill="none" stroke="#000" stroke-width="2"/>
<path d="M385.6,165.0l-0.4,1.1M388.4,166.1l1.4,-1.1M389.8,166.6l0.7,-1.1M391.2,167.1l-0.8,-1.3M392.9,159.2l1.1,-0.5M392.6,158.0l-0.1,1.4M389.8,157.1l-0.2,1.5M388.4,156.6l-1.0,0.5M387.5,153.8l-0.6,1.4M387.0,152.4l1.7,-0.1M388.0,151.3l-1.1,-0.2M389.0,150.1l0.9,0.2M389.9,149.0l0.5,0.7M390.9,147.8l-0.2,-1.7M391.2,147.5l0.6,-1.2M392.7,147.1l0.4,1.3M394.1,146.8l-0.3,-0.8M398.1,145.4l-0.2,1.4M399.5,144.8l1.3,0.9M400.8,144.1l-0.9,-0.5M401.0,144.0l0.7,-1.5M404.0,143.6l-0.7,-1.1M406.6,143.3l-0.1,1.0M408.1,143.6l-0.5,1.2M409.5,143.9l1.1,-1.0M412.5,144.5l-1.0,-1.0M413.6,144.7l0.5,1.1M422.1,143.8l0.7,-0.7M426.2,144.0l0.2,-1.3M427.5,146.7l1.6,0.4M428.3,148.2l-1.4,-0.0M430.6,150.2l-0.9,0.9M431.7,151.1l-0.4,1.4M436.0,153.5l0.4,1.5M437.4,154.1l-0.4,-1.1M438.8,154.6l-0.4,-1.5M440.2,155.2l-0.0,1.0M441.5,156.0l-1.1,1.0M445.8,158.7l-0.0,-1.0M447.1,159.4l-0.8,0.9M449.8,160.7l-1.7,0.8M451.2,161.4l-0.8,0.7M451.4,161.5l1.5,-0.2M452.7,162.2l0.3,1.2M454.0,163.0l-1.2,0.8M455.3,163.7l-0.0,0.9M457.4,165.4l1.2,-0.1M459.5,167.5l0.1,-1.7M461.2,169.2l1.3,-0.5M464.7,174.8l-0.8,0.8M465.2,176.2l-0.6,1.4M468.9,182.5l-0.2,1.1M470.0,183.6l-0.7,0.6M471.0,184.6l1.0,-0.6M472.3,185.3l1.2,-0.9M473.7,185.9l0.3,-1.4M475.0,186.6l-0.1,-1.2M476.4,187.3l-1.4,0.2M476.6,187.4l-0.0,1.5M478.9,189.3l-0.4,1.2M480.8,190.9l1.3,-0.8" stroke="#000" stroke-width="1.2" fill="none"/>
<path d="M382.5,158.5h7M381.5,165.5h6" stroke="#000" stroke-width="3" fill="none"/>
<path d="M383,158.5h6M382,165.5h5" stroke="#fff" stroke-width="1" fill="none"/>
<path d="M334.5,179.5l1,-4l-2,-2M335.5,175.5l4,-2l1,-3M339.5,173.5l3,1M331,181l-2,-2" stroke="#000" stroke-width="1.3" fill="none"/>
</g>
<path d="M117.0,129.2L118.5,126.1M118.4,127.3L118.5,126.1L117.7,127.0M132.6,146.8L141.3,148.1M138.3,148.6L141.3,148.1L138.6,146.7M132.6,129.2L129.0,118.7M131.3,121.8L129.0,118.7L129.0,122.6M132.6,111.6L135.1,120.4M133.3,117.7L135.1,120.4L135.2,117.2M148.1,164.4L154.1,159.7M152.6,161.9L154.1,159.7L151.6,160.6M148.1,146.8L144.4,139.2M146.4,141.3L144.4,139.2L144.8,142.1M148.1,129.2L155.6,127.2M153.3,128.7L155.6,127.2L152.9,127.1M163.6,164.4L164.3,164.9M164.0,164.8L164.3,164.9L164.2,164.7M163.6,146.8L169.8,147.6M167.7,148.0L169.8,147.6L167.9,146.6M163.6,129.2L176.1,134.2M171.4,133.9L176.1,134.2L172.5,131.2M163.6,111.6L171.0,116.3M168.1,115.6L171.0,116.3L169.1,114.0M179.1,182.0L180.4,182.5M179.9,182.5L180.4,182.5L180.0,182.2M179.1,164.4L182.9,167.4M181.3,166.8L182.9,167.4L182.0,166.0M179.1,146.8L189.1,151.1M185.4,150.8L189.1,151.1L186.3,148.6M179.1,129.2L180.4,138.0M179.0,135.2L180.4,138.0L180.9,134.9M194.6,199.6L188.4,205.9M189.8,203.2L188.4,205.9L191.1,204.5M194.6,182.0L194.6,183.3M194.5,182.9L194.6,183.3L194.8,182.9M194.6,164.4L203.4,170.2M199.9,169.2L203.4,170.2L201.1,167.3M194.6,146.8L199.6,152.8M197.3,151.4L199.6,152.8L198.6,150.3M194.6,129.2L195.9,134.2M194.9,132.7L195.9,134.2L196.0,132.4M210.2,217.3L207.7,224.3M207.7,221.7L207.7,224.3L209.2,222.2M210.2,199.6L210.0,209.0M209.0,205.9L210.0,209.0L211.0,205.9M210.2,182.0L210.2,200.0M208.2,194.1L210.2,200.0L212.1,194.1M210.2,164.4L212.2,179.4M209.9,174.7L212.2,179.4L213.1,174.3M210.2,146.8L212.2,155.6M210.5,152.9L212.2,155.6L212.5,152.5M210.2,129.2L211.4,131.2M210.8,130.7L211.4,131.2L211.2,130.4M225.7,217.3L224.4,224.8M224.0,222.1L224.4,224.8L225.7,222.4M225.7,199.6L233.2,207.1M229.9,205.5L233.2,207.1L231.5,203.9M225.7,182.0L231.9,190.0M229.0,188.1L231.9,190.0L230.7,186.7M225.7,164.4L225.2,171.9M224.5,169.4L225.2,171.9L226.2,169.5M225.7,146.8L218.2,155.1M219.8,151.5L218.2,155.1L221.6,153.2M225.7,129.2L226.2,135.5M225.3,133.5L226.2,135.5L226.7,133.3M241.2,234.9L242.4,235.6M242.0,235.5L242.4,235.6L242.1,235.2M241.2,217.3L241.2,224.8M240.4,222.3L241.2,224.8L242.0,222.3M241.2,199.6L243.7,212.6M241.5,208.6L243.7,212.6L244.3,208.1M241.2,182.0L248.2,185.0M245.6,184.8L248.2,185.0L246.2,183.3M241.2,164.4L239.9,171.4M239.6,169.0L239.9,171.4L241.1,169.3M241.2,146.8L237.4,149.3M238.4,148.1L237.4,149.3L239.0,148.9M256.7,252.5L260.0,255.0M258.6,254.5L260.0,255.0L259.2,253.8M256.7,234.9L264.2,239.4M261.3,238.7L264.2,239.4L262.2,237.1M256.7,217.3L263.0,223.5M260.2,222.1L263.0,223.5L261.6,220.8M256.7,199.6L258.5,207.1M257.1,204.9L258.5,207.1L258.7,204.5M256.7,182.0L261.7,187.5M259.5,186.3L261.7,187.5L260.7,185.2M256.7,164.4L256.2,169.4M255.8,167.7L256.2,169.4L256.9,167.8M256.7,146.8L257.5,154.8M256.4,152.3L257.5,154.8L258.1,152.1M272.2,252.5L279.7,257.5M276.7,256.6L279.7,257.5L277.8,255.0M272.2,234.9L281.0,246.1M276.9,243.4L281.0,246.1L279.3,241.5M272.2,217.3L271.7,232.3M270.3,227.3L271.7,232.3L273.5,227.4M272.2,199.6L274.2,209.1M272.5,206.2L274.2,209.1L274.6,205.8M272.2,182.0L276.5,188.0M274.4,186.5L276.5,188.0L275.7,185.6M272.2,164.4L271.5,165.4M271.6,165.0L271.5,165.4L271.8,165.2M287.8,287.7L286.3,289.5M286.6,288.7L286.3,289.5L286.9,289.0M287.8,270.1L291.3,275.6M289.5,274.2L291.3,275.6L290.7,273.4M287.8,252.5L299.0,260.5M294.4,259.1L299.0,260.5L296.2,256.6M287.8,234.9L301.5,239.9M296.4,239.7L301.5,239.9L297.5,236.7M287.8,217.3L285.3,223.5M285.4,221.2L285.3,223.5L286.8,221.7M287.8,199.6L287.0,222.1M284.8,214.6L287.0,222.1L289.7,214.8M287.8,182.0L287.8,195.8M286.3,191.3L287.8,195.8L289.3,191.3M287.8,164.4L288.3,165.9M287.9,165.5L288.3,165.9L288.3,165.4M303.3,305.3L302.5,306.3M302.7,305.9L302.5,306.3L302.9,306.1M303.3,287.7L305.5,289.5M304.6,289.1L305.5,289.5L305.0,288.6M303.3,270.1L309.5,273.8M307.1,273.3L309.5,273.8L307.9,271.9M303.3,252.5L310.8,258.7M307.6,257.5L310.8,258.7L309.0,255.9M303.3,234.9L309.5,235.4M307.4,235.9L309.5,235.4L307.5,234.5M303.3,217.3L303.8,222.8M303.0,221.0L303.8,222.8L304.2,220.9M303.3,199.6L305.8,204.1M304.5,202.9L305.8,204.1L305.4,202.4M318.8,322.9L318.8,325.4M318.5,324.6L318.8,325.4L319.1,324.6M318.8,305.3L320.5,306.6M319.8,306.3L320.5,306.6L320.1,306.0M318.8,287.7L325.0,290.5M322.7,290.2L325.0,290.5L323.3,288.9M318.8,270.1L326.3,275.6M323.2,274.6L326.3,275.6L324.4,273.0M318.8,252.5L326.3,253.0M323.8,253.6L326.3,253.0L323.9,252.0M318.8,234.9L328.0,239.1M324.5,238.7L328.0,239.1L325.5,236.7M318.8,217.3L324.5,228.3M321.5,225.3L324.5,228.3L323.9,224.0M318.8,199.6L319.5,214.6M317.7,209.8L319.5,214.6L320.9,209.6M334.3,358.1L334.3,361.9M333.9,360.7L334.3,361.9L334.7,360.7M334.3,340.5L334.3,343.8M334.0,342.7L334.3,343.8L334.7,342.7M334.3,322.9L333.1,327.9M332.9,326.1L333.1,327.9L334.0,326.4M334.3,305.3L338.1,312.6M336.0,310.6L338.1,312.6L337.6,309.8M334.3,287.7L340.6,296.2M337.6,294.1L340.6,296.2L339.4,292.7M334.3,270.1L337.6,275.1M336.0,273.8L337.6,275.1L337.0,273.1M334.3,252.5L339.8,255.0M337.7,254.8L339.8,255.0L338.3,253.6M334.3,234.9L342.3,235.4M339.6,236.1L342.3,235.4L339.7,234.3M334.3,217.3L344.3,223.3M340.4,222.4L344.3,223.3L341.7,220.2M334.3,199.6L335.1,202.1M334.6,201.4L335.1,202.1L335.1,201.2M334.3,182.0L336.0,187.4M334.9,185.8L336.0,187.4L336.0,185.5M349.8,375.8L347.6,380.5M347.8,378.7L347.6,380.5L348.8,379.2M349.8,358.1L348.6,362.4M348.5,360.9L348.6,362.4L349.5,361.1M349.8,340.5L349.1,345.5M348.8,343.8L349.1,345.5L349.9,344.0M349.8,322.9L350.1,329.9M349.2,327.6L350.1,329.9L350.8,327.6M349.8,305.3L353.1,314.6M351.0,311.9L353.1,314.6L353.0,311.2M349.8,287.7L352.6,295.0M350.9,292.9L352.6,295.0L352.5,292.3M349.8,270.1L350.3,273.8M349.8,272.7L350.3,273.8L350.6,272.5M349.8,252.5L356.1,255.0M353.8,254.8L356.1,255.0L354.3,253.5M349.8,234.9L356.8,236.1M354.4,236.5L356.8,236.1L354.7,234.9M349.8,217.3L356.1,221.5M353.6,220.8L356.1,221.5L354.5,219.4M349.8,199.6L353.6,202.1M352.1,201.7L353.6,202.1L352.6,200.9M349.8,182.0L352.9,184.2M351.7,183.8L352.9,184.2L352.1,183.2M365.4,393.4L363.9,397.6M363.9,396.0L363.9,397.6L364.8,396.4M365.4,375.8L365.1,379.5M364.8,378.2L365.1,379.5L365.6,378.3M365.4,358.1L363.9,363.6M363.8,361.7L363.9,363.6L365.0,362.0M365.4,340.5L365.6,347.5M364.8,345.2L365.6,347.5L366.3,345.2M365.4,322.9L365.1,332.4M364.2,329.3L365.1,332.4L366.2,329.3M365.4,305.3L365.9,313.8M364.8,311.1L365.9,313.8L366.6,311.0M365.4,287.7L365.4,292.5M364.8,290.9L365.4,292.5L365.9,290.9M365.4,270.1L365.9,273.8M365.3,272.7L365.9,273.8L366.1,272.5M365.4,252.5L370.4,255.0M368.4,254.7L370.4,255.0L369.0,253.6M365.4,234.9L372.4,235.4M370.0,236.0L372.4,235.4L370.1,234.4M365.4,217.3L372.4,217.3M370.1,218.0L372.4,217.3L370.1,216.5M365.4,199.6L370.9,200.1M369.0,200.6L370.9,200.1L369.1,199.4M365.4,182.0L367.9,184.5M366.8,184.0L367.9,184.5L367.3,183.4M380.9,463.8L378.6,463.8M379.4,463.6L378.6,463.8L379.4,464.0M380.9,446.2L378.1,448.7M378.8,447.6L378.1,448.7L379.3,448.2M380.9,428.6L378.1,432.1M378.7,430.6L378.1,432.1L379.4,431.2M380.9,411.0L378.1,414.5M378.7,413.0L378.1,414.5L379.4,413.6M380.9,393.4L379.6,398.1M379.5,396.4L379.6,398.1L380.6,396.7M380.9,375.8L380.9,381.2M380.3,379.4L380.9,381.2L381.5,379.4M380.9,358.1L378.9,364.9M378.8,362.4L378.9,364.9L380.3,362.9M380.9,340.5L381.4,348.8M380.3,346.1L381.4,348.8L382.1,346.0M380.9,322.9L377.6,327.9M378.2,325.9L377.6,327.9L379.2,326.6M380.9,305.3L378.9,309.6M379.1,307.9L378.9,309.6L380.0,308.4M380.9,287.7L380.6,292.0M380.2,290.5L380.6,292.0L381.2,290.6M380.9,270.1L381.6,276.3M380.7,274.4L381.6,276.3L382.1,274.2M380.9,252.5L384.1,258.7M382.4,257.0L384.1,258.7L383.7,256.3M380.9,234.9L385.9,237.4M384.0,237.1L385.9,237.4L384.5,236.0M380.9,217.3L387.1,218.3M385.0,218.6L387.1,218.3L385.2,217.2M380.9,199.6L386.6,200.9M384.6,201.1L386.6,200.9L384.9,199.9M380.9,182.0L384.6,186.3M382.9,185.3L384.6,186.3L383.9,184.5M380.9,164.4L383.3,168.3M382.1,167.3L383.3,168.3L382.9,166.7M396.4,516.6L395.4,517.9M395.6,517.4L395.4,517.9L395.9,517.6M396.4,499.0L394.9,499.5M395.3,499.2L394.9,499.5L395.4,499.5M396.4,481.4L394.4,480.9M395.1,480.9L394.4,480.9L395.0,481.3M396.4,463.8L394.9,464.6M395.3,464.1L394.9,464.6L395.5,464.5M396.4,446.2L394.9,447.4M395.3,446.9L394.9,447.4L395.5,447.2M396.4,428.6L395.4,433.1M395.2,431.5L395.4,433.1L396.2,431.7M396.4,411.0L394.9,415.5M394.9,413.8L394.9,415.5L395.9,414.1M396.4,393.4L396.1,400.1M395.5,397.9L396.1,400.1L397.0,397.9M396.4,375.8L396.4,383.8M395.5,381.1L396.4,383.8L397.3,381.1M396.4,358.1L393.6,368.6M393.4,364.9L393.6,368.6L395.7,365.5M396.4,340.5L392.9,348.0M393.2,345.2L392.9,348.0L394.9,345.9M396.4,322.9L393.6,328.7M393.9,326.5L393.6,328.7L395.2,327.1M396.4,305.3L394.9,311.3M394.7,309.2L394.9,311.3L396.0,309.5M396.4,287.7L395.9,293.7M395.4,291.7L395.9,293.7L396.7,291.8M396.4,270.1L397.4,277.1M396.3,274.9L397.4,277.1L397.8,274.7M396.4,252.5L398.9,259.5M397.3,257.4L398.9,259.5L398.8,256.9M396.4,234.9L400.6,239.9M398.7,238.7L400.6,239.9L399.8,237.8M396.4,217.3L402.1,221.0M399.8,220.4L402.1,221.0L400.7,219.1M396.4,199.6L401.4,203.1M399.4,202.5L401.4,203.1L400.1,201.5M396.4,182.0L400.1,187.8M398.3,186.3L400.1,187.8L399.5,185.5M396.4,164.4L397.1,167.7M396.5,166.7L397.1,167.7L397.3,166.5M396.4,146.8L397.4,150.2M396.7,149.2L397.4,150.2L397.5,149.0M411.9,692.7L406.2,691.2M408.2,691.1L406.2,691.2L407.9,692.4M411.9,675.1L410.4,672.6M411.2,673.3L410.4,672.6L410.6,673.6M411.9,657.5L411.2,655.0M411.7,655.8L411.2,655.0L411.1,655.9M411.9,639.9L410.4,639.4M411.0,639.4L410.4,639.4L410.9,639.7M411.9,551.9L408.7,552.6M409.7,552.0L408.7,552.6L409.8,552.7M411.9,534.2L408.7,533.7M409.8,533.6L408.7,533.7L409.7,534.3M411.9,516.6L409.9,518.6M410.4,517.8L409.9,518.6L410.8,518.2M411.9,499.0L409.9,501.3M410.3,500.3L409.9,501.3L410.8,500.7M411.9,481.4L409.9,482.9M410.4,482.2L409.9,482.9L410.7,482.6M411.9,463.8L410.4,465.6M410.7,464.8L410.4,465.6L411.1,465.1M411.9,446.2L410.4,447.9M410.7,447.2L410.4,447.9L411.1,447.5M411.9,428.6L409.9,433.1M410.1,431.4L409.9,433.1L411.1,431.8M411.9,411.0L409.9,417.5M409.9,415.1L409.9,417.5L411.3,415.5M411.9,393.4L411.2,402.1M410.5,399.1L411.2,402.1L412.4,399.3M411.9,375.8L411.2,383.8M410.5,381.0L411.2,383.8L412.3,381.2M411.9,358.1L405.4,362.4M407.1,360.3L405.4,362.4L408.0,361.7M411.9,340.5L407.4,346.3M408.3,343.9L407.4,346.3L409.5,344.9M411.9,322.9L409.9,330.4M409.8,327.7L409.9,330.4L411.4,328.2M411.9,305.3L411.2,312.6M410.6,310.1L411.2,312.6L412.2,310.2M411.9,287.7L411.9,296.2M411.0,293.4L411.9,296.2L412.8,293.4M411.9,270.1L412.9,277.6M411.8,275.2L412.9,277.6L413.4,275.0M411.9,252.5L414.4,259.5M412.8,257.4L414.4,259.5L414.4,256.9M411.9,234.9L414.9,240.4M413.3,238.9L414.9,240.4L414.5,238.2M411.9,217.3L415.4,221.8M413.8,220.7L415.4,221.8L414.8,219.9M411.9,199.6L415.4,203.9M413.8,202.9L415.4,203.9L414.7,202.1M411.9,182.0L414.9,187.0M413.4,185.7L414.9,187.0L414.5,185.1M411.9,164.4L412.4,167.4M411.9,166.5L412.4,167.4L412.6,166.4M411.9,146.8L412.7,150.0M412.1,149.0L412.7,150.0L412.8,148.8M427.4,710.3L418.7,708.1M421.8,707.9L418.7,708.1L421.3,709.8M427.4,692.7L423.7,698.7M424.3,696.3L423.7,698.7L425.6,697.2M427.4,675.1L428.7,683.9M427.3,681.1L428.7,683.9L429.2,680.8M427.4,657.5L428.7,663.8M427.6,661.8L428.7,663.8L429.0,661.6M427.4,639.9L426.2,642.4M426.3,641.4L426.2,642.4L426.9,641.7M427.4,622.3L424.4,622.5M425.4,622.1L424.4,622.5L425.5,622.8M427.4,604.7L424.4,606.2M425.3,605.4L424.4,606.2L425.6,606.0M427.4,587.1L423.7,588.1M424.8,587.3L423.7,588.1L425.0,588.1M427.4,569.5L423.7,570.0M424.9,569.4L423.7,570.0L425.0,570.2M427.4,551.9L422.4,553.1M424.0,552.1L422.4,553.1L424.2,553.2M427.4,534.2L424.4,536.2M425.2,535.3L424.4,536.2L425.6,535.9M427.4,516.6L424.9,519.4M425.5,518.2L424.9,519.4L426.1,518.7M427.4,499.0L425.4,502.5M425.7,501.1L425.4,502.5L426.5,501.6M427.4,481.4L424.4,486.2M424.9,484.3L424.4,486.2L425.9,484.9M427.4,463.8L424.9,466.3M425.5,465.2L424.9,466.3L426.0,465.7M427.4,446.2L422.4,442.9M424.4,443.5L422.4,442.9L423.7,444.6M427.4,428.6L422.9,425.1M424.8,425.7L422.9,425.1L424.0,426.7M427.4,411.0L424.4,408.0M425.8,408.6L424.4,408.0L425.1,409.3M427.4,393.4L424.9,391.4M426.0,391.7L424.9,391.4L425.5,392.3M427.4,375.8L425.4,375.5M426.1,375.4L425.4,375.5L426.1,375.8M427.4,358.1L424.4,361.9M425.0,360.3L424.4,361.9L425.8,361.0M427.4,340.5L425.4,346.3M425.5,344.2L425.4,346.3L426.7,344.6M427.4,322.9L426.2,331.9M425.6,328.8L426.2,331.9L427.6,329.1M427.4,305.3L426.2,315.1M425.5,311.7L426.2,315.1L427.7,312.0M427.4,287.7L427.4,297.5M426.4,294.2L427.4,297.5L428.5,294.2M427.4,270.1L428.7,278.8M427.3,276.1L428.7,278.8L429.2,275.8M427.4,252.5L429.9,259.5M428.4,257.4L429.9,259.5L429.9,256.9M427.4,234.9L430.4,241.1M428.8,239.4L430.4,241.1L430.1,238.7M427.4,217.3L430.4,222.3M428.9,220.9L430.4,222.3L430.0,220.3M427.4,199.6L431.2,203.1M429.6,202.4L431.2,203.1L430.3,201.6M427.4,182.0L428.7,186.3M427.8,185.0L428.7,186.3L428.7,184.8M427.4,164.4L427.9,166.9M427.5,166.2L427.9,166.9L428.0,166.1M427.4,146.8L428.0,149.3M427.6,148.5L428.0,149.3L428.1,148.4M443.0,728.0L432.5,720.0M436.8,721.4L432.5,720.0L435.1,723.7M443.0,710.3L442.5,715.1M442.1,713.5L442.5,715.1L443.1,713.6M443.0,692.7L437.5,698.0M438.7,695.6L437.5,698.0L439.8,696.8M443.0,675.1L440.0,678.1M440.6,676.8L440.0,678.1L441.3,677.5M443.0,657.5L438.7,657.0M440.2,656.7L438.7,657.0L440.1,657.6M443.0,639.9L440.0,637.9M441.2,638.2L440.0,637.9L440.7,638.9M443.0,622.3L441.2,622.5M441.8,622.3L441.2,622.5L441.8,622.6M443.0,604.7L439.5,606.9M440.4,605.8L439.5,606.9L440.9,606.6M443.0,587.1L438.7,589.6M439.8,588.3L438.7,589.6L440.4,589.2M443.0,569.5L438.7,572.0M439.8,570.7L438.7,572.0L440.4,571.6M443.0,551.9L438.0,553.9M439.4,552.6L438.0,553.9L439.8,553.7M443.0,534.2L438.7,536.2M439.9,535.1L438.7,536.2L440.3,536.0M443.0,516.6L437.5,516.4M439.3,515.9L437.5,516.4L439.2,517.1M443.0,499.0L437.0,493.8M439.5,494.8L437.0,493.8L438.4,496.2M443.0,481.4L437.5,476.2M439.8,477.3L437.5,476.2L438.7,478.5M443.0,463.8L438.7,462.6M440.2,462.5L438.7,462.6L440.0,463.4M443.0,446.2L441.2,447.4M441.7,446.8L441.2,447.4L441.9,447.2M443.0,428.6L442.5,431.3M442.3,430.4L442.5,431.3L442.9,430.5M443.0,411.0L443.0,415.0M442.5,413.7L443.0,415.0L443.4,413.7M443.0,393.4L443.0,397.6M442.5,396.2L443.0,397.6L443.4,396.2M443.0,375.8L443.0,380.0M442.5,378.6L443.0,380.0L443.4,378.6M443.0,358.1L442.5,363.9M442.0,361.9L442.5,363.9L443.3,362.0M443.0,340.5L442.0,348.8M441.4,345.9L442.0,348.8L443.2,346.2M443.0,322.9L441.2,333.7M440.6,329.9L441.2,333.7L443.0,330.3M443.0,305.3L442.5,316.3M441.4,312.6L442.5,316.3L443.8,312.7M443.0,287.7L443.5,298.7M442.1,295.1L443.5,298.7L444.5,295.0M443.0,270.1L444.5,280.1M442.9,277.0L444.5,280.1L445.1,276.6M443.0,252.5L445.0,260.0M443.5,257.7L445.0,260.0L445.1,257.3M443.0,234.9L445.5,241.1M444.0,239.3L445.5,241.1L445.3,238.8M443.0,217.3L445.0,222.5M443.7,221.0L445.0,222.5L444.9,220.6M443.0,199.6L445.5,203.9M444.2,202.8L445.5,203.9L445.1,202.2M443.0,182.0L444.2,186.3M443.3,185.0L444.2,186.3L444.3,184.8M443.0,164.4L443.5,165.4M443.2,165.2L443.5,165.4L443.4,165.0M458.5,745.6L453.8,744.1M455.5,744.1L453.8,744.1L455.2,745.1M458.5,728.0L452.5,725.0M454.8,725.3L452.5,725.0L454.1,726.6M458.5,710.3L455.5,718.8M455.5,715.7L455.5,718.8L457.4,716.4M458.5,692.7L451.2,699.5M452.9,696.5L451.2,699.5L454.4,698.0M458.5,675.1L448.0,679.6M451.0,677.0L448.0,679.6L451.9,679.3M458.5,657.5L459.5,660.0M458.9,659.3L459.5,660.0L459.4,659.1M458.5,639.9L458.0,640.4M458.1,640.2L458.0,640.4L458.2,640.3M458.5,622.3L457.0,622.5M457.4,622.3L457.0,622.5L457.5,622.6M458.5,604.7L453.7,603.7M455.4,603.5L453.7,603.7L455.2,604.5M458.5,587.1L453.7,588.8M455.1,587.7L453.7,588.8L455.5,588.8M458.5,569.5L451.2,569.0M453.7,568.3L451.2,569.0L453.6,569.9M458.5,551.9L450.5,551.4M453.2,550.6L450.5,551.4L453.1,552.4M458.5,534.2L451.2,533.7M453.7,533.1L451.2,533.7L453.6,534.7M458.5,516.6L453.7,517.1M455.2,516.4L453.7,517.1L455.4,517.5M458.5,499.0L456.2,501.3M456.7,500.3L456.2,501.3L457.2,500.8M458.5,481.4L458.0,483.7M457.9,482.9L458.0,483.7L458.4,483.0M458.5,463.8L458.0,467.6M457.7,466.3L458.0,467.6L458.6,466.4M458.5,446.2L459.5,452.4M458.5,450.5L459.5,452.4L459.8,450.3M458.5,428.6L459.5,435.1M458.4,433.0L459.5,435.1L459.9,432.8M458.5,411.0L459.5,418.7M458.3,416.3L459.5,418.7L460.0,416.1M458.5,393.4L458.7,401.4M457.8,398.7L458.7,401.4L459.5,398.7M458.5,375.8L458.5,383.8M457.6,381.1L458.5,383.8L459.4,381.1M458.5,358.1L458.0,367.6M457.1,364.5L458.0,367.6L459.2,364.6M458.5,340.5L457.0,350.0M456.4,346.7L457.0,350.0L458.5,347.1M458.5,322.9L457.5,333.7M456.6,330.0L457.5,333.7L459.0,330.2M458.5,305.3L458.5,316.3M457.3,312.7L458.5,316.3L459.7,312.7M458.5,287.7L459.0,298.7M457.6,295.1L459.0,298.7L460.0,295.0M458.5,270.1L459.5,281.3M457.9,277.7L459.5,281.3L460.4,277.5M458.5,252.5L460.0,261.2M458.5,258.5L460.0,261.2L460.4,258.2M458.5,234.9L460.5,240.4M459.2,238.8L460.5,240.4L460.4,238.3M458.5,217.3L460.0,222.5M458.9,220.9L460.0,222.5L460.1,220.6M458.5,199.6L459.0,205.1M458.2,203.4L459.0,205.1L459.4,203.3M458.5,182.0L459.2,185.0M458.7,184.1L459.2,185.0L459.3,184.0M474.0,745.6L471.2,745.1M472.2,744.9L471.2,745.1L472.1,745.5M474.0,728.0L473.0,733.7M472.7,731.7L473.0,733.7L474.0,731.9M474.0,710.3L467.5,718.8M468.7,715.3L467.5,718.8L470.6,716.7M474.0,692.7L461.2,696.2M465.1,693.7L461.2,696.2L465.8,696.5M474.0,675.1L468.8,682.6M469.7,679.6L468.8,682.6L471.3,680.7M474.0,657.5L472.5,665.0M472.2,662.4L472.5,665.0L473.8,662.7M474.0,639.9L470.5,646.1M471.0,643.7L470.5,646.1L472.3,644.5M474.0,622.3L470.5,625.5M471.3,624.1L470.5,625.5L472.0,624.8M474.0,604.7L469.5,606.9M470.7,605.7L469.5,606.9L471.2,606.7M474.0,587.1L468.8,588.8M470.3,587.7L468.8,588.8L470.7,588.8M474.0,569.5L470.0,572.0M471.0,570.7L470.0,572.0L471.6,571.6M474.0,551.9L470.0,557.1M470.7,554.9L470.0,557.1L471.9,555.8M474.0,534.2L471.2,541.2M471.4,538.6L471.2,541.2L472.9,539.2M474.0,516.6L473.0,523.9M472.5,521.4L473.0,523.9L474.1,521.6M474.0,499.0L473.8,506.3M473.0,503.9L473.8,506.3L474.6,503.9M474.0,481.4L474.5,488.7M473.5,486.3L474.5,488.7L475.1,486.2M474.0,463.8L474.5,473.8M473.2,470.6L474.5,473.8L475.4,470.4M474.0,446.2L475.0,456.2M473.6,453.0L475.0,456.2L475.8,452.8M474.0,428.6L475.0,438.8M473.6,435.6L475.0,438.8L475.8,435.3M474.0,411.0L475.0,422.5M473.4,418.8L475.0,422.5L475.9,418.6M474.0,393.4L474.5,403.9M473.2,400.4L474.5,403.9L475.5,400.3M474.0,375.8L474.5,387.5M473.1,383.7L474.5,387.5L475.6,383.6M474.0,358.1L472.5,370.1M471.7,366.0L472.5,370.1L474.3,366.3M474.0,340.5L472.5,352.5M471.7,348.4L472.5,352.5L474.3,348.7M474.0,322.9L473.0,333.7M472.2,330.0L473.0,333.7L474.5,330.2M474.0,305.3L473.5,316.3M472.5,312.6L473.5,316.3L474.9,312.7M474.0,287.7L474.0,298.7M472.8,295.1L474.0,298.7L475.2,295.1M474.0,270.1L474.5,282.6M473.0,278.5L474.5,282.6L475.7,278.4M474.0,252.5L474.5,262.5M473.2,259.2L474.5,262.5L475.4,259.1M474.0,234.9L475.0,242.4M473.9,240.0L475.0,242.4L475.5,239.8M474.0,217.3L475.0,220.0M474.4,219.2L475.0,220.0L475.0,219.0M474.0,199.6L474.5,204.6M473.8,203.1L474.5,204.6L474.9,202.9M489.5,745.6L490.0,752.6M489.1,750.3L490.0,752.6L490.6,750.2M489.5,728.0L487.0,738.7M486.7,734.9L487.0,738.7L489.0,735.4M489.5,710.3L475.0,715.1M479.3,711.9L475.0,715.1L480.3,715.1M489.5,692.7L481.3,702.0M483.0,698.0L481.3,702.0L485.0,699.8M489.5,675.1L486.3,685.1M486.3,681.5L486.3,685.1L488.4,682.2M489.5,657.5L485.0,666.3M485.6,662.9L485.0,666.3L487.5,663.9M489.5,639.9L485.5,649.4M485.8,645.8L485.5,649.4L487.9,646.7M489.5,622.3L486.3,630.0M486.5,627.1L486.3,630.0L488.2,627.8M489.5,604.7L487.0,611.2M487.1,608.8L487.0,611.2L488.6,609.3M489.5,587.1L487.0,593.8M487.1,591.3L487.0,593.8L488.6,591.9M489.5,569.5L487.0,577.5M487.0,574.5L487.0,577.5L488.7,575.1M489.5,551.9L487.5,561.4M487.1,558.0L487.5,561.4L489.2,558.4M489.5,534.2L487.0,543.7M486.8,540.3L487.0,543.7L488.9,540.9M489.5,516.6L488.0,528.9M487.2,524.7L488.0,528.9L489.8,525.0M489.5,499.0L490.0,510.0M488.7,506.4L490.0,510.0L491.1,506.3M489.5,481.4L490.0,493.7M488.5,489.7L490.0,493.7L491.2,489.6M489.5,463.8L490.0,476.3M488.5,472.2L490.0,476.3L491.2,472.1M489.5,446.2L490.5,459.9M488.7,455.5L490.5,459.9L491.7,455.3M489.5,428.6L490.5,442.6M488.7,438.1L490.5,442.6L491.7,437.9M489.5,411.0L490.0,425.0M488.3,420.4L490.0,425.0L491.4,420.3M489.5,393.4L490.0,407.6M488.3,403.0L490.0,407.6L491.4,402.9M489.5,375.8L489.5,390.0M488.0,385.3L489.5,390.0L491.1,385.3M489.5,358.1L487.5,371.4M486.7,366.8L487.5,371.4L489.6,367.2M489.5,340.5L487.0,355.0M486.3,350.0L487.0,355.0L489.4,350.5M489.5,322.9L487.5,336.2M486.7,331.6L487.5,336.2L489.6,332.0M489.5,305.3L488.5,317.6M487.5,313.4L488.5,317.6L490.2,313.6M489.5,287.7L489.0,300.0M487.9,295.9L489.0,300.0L490.5,296.0M489.5,270.1L490.0,282.6M488.5,278.5L490.0,282.6L491.2,278.4M489.5,252.5L489.5,263.7M488.3,260.0L489.5,263.7L490.7,260.0M489.5,234.9L488.0,246.1M487.3,242.2L488.0,246.1L489.7,242.6M489.5,217.3L488.0,220.0M488.2,218.9L488.0,220.0L488.8,219.3M505.0,763.2L512.5,771.2M509.2,769.3L512.5,771.2L510.9,767.7M505.0,745.6L500.5,757.6M500.7,753.1L500.5,757.6L503.3,754.1M505.0,728.0L495.0,738.0M497.3,733.6L495.0,738.0L499.4,735.7M505.0,710.3L494.5,721.3M496.8,716.6L494.5,721.3L499.2,718.9M505.0,692.7L498.8,702.5M499.8,698.6L498.8,702.5L501.9,699.9M505.0,675.1L501.3,686.4M501.3,682.2L501.3,686.4L503.8,683.1M505.0,657.5L501.3,668.8M501.3,664.6L501.3,668.8L503.8,665.5M505.0,639.9L502.0,650.4M501.9,646.6L502.0,650.4L504.2,647.3M505.0,622.3L501.3,632.5M501.4,628.7L501.3,632.5L503.6,629.6M505.0,604.7L502.5,614.9M502.2,611.3L502.5,614.9L504.5,611.8M505.0,587.1L502.5,597.6M502.2,593.8L502.5,597.6L504.5,594.4M505.0,569.5L503.8,580.0M503.1,576.4L503.8,580.0L505.3,576.6M505.0,551.9L503.8,562.4M503.1,558.7L503.8,562.4L505.3,559.0M505.0,534.2L503.8,545.0M503.0,541.3L503.8,545.0L505.4,541.6M505.0,516.6L504.5,527.6M503.5,523.9L504.5,527.6L505.9,524.1M505.0,499.0L505.5,510.0M504.2,506.4L505.5,510.0L506.6,506.3M505.0,481.4L506.3,493.7M504.5,489.8L506.3,493.7L507.2,489.5M505.0,463.8L507.5,477.6M505.2,473.3L507.5,477.6L508.2,472.7M505.0,446.2L500.0,464.9M499.6,458.2L500.0,464.9L503.7,459.3M505.0,428.6L498.8,442.6M499.3,437.3L498.8,442.6L502.4,438.6M505.0,411.0L498.0,425.0M498.8,419.6L498.0,425.0L501.9,421.1M505.0,393.4L501.3,407.6M501.0,402.5L501.3,407.6L504.1,403.3M505.0,375.8L502.5,391.2M501.7,385.9L502.5,391.2L505.1,386.4M505.0,358.1L501.3,375.1M500.7,369.1L501.3,375.1L504.4,369.9M505.0,340.5L501.3,355.0M500.9,349.8L501.3,355.0L504.1,350.7M505.0,322.9L502.5,336.2M501.9,331.5L502.5,336.2L504.8,332.1M505.0,305.3L503.8,317.6M502.9,313.4L503.8,317.6L505.5,313.7M505.0,287.7L504.5,300.0M503.4,295.9L504.5,300.0L506.0,296.0M505.0,270.1L503.8,283.8M502.7,279.2L503.8,283.8L505.7,279.4M505.0,252.5L502.5,262.5M502.3,258.9L502.5,262.5L504.5,259.5M505.0,234.9L503.8,237.9M503.9,236.7L503.8,237.9L504.5,237.0M520.6,763.2L522.6,767.4M521.4,766.2L522.6,767.4L522.4,765.8M520.6,745.6L505.6,760.1M508.9,753.6L505.6,760.1L512.1,756.9M520.6,728.0L508.1,741.2M510.7,735.5L508.1,741.2L513.6,738.2M520.6,710.3L512.1,723.8M513.4,718.5L512.1,723.8L516.3,720.3M520.6,692.7L515.1,706.2M515.4,701.2L515.1,706.2L518.3,702.4M520.6,675.1L517.1,688.1M516.8,683.4L517.1,688.1L519.6,684.2M520.6,657.5L517.6,670.0M517.2,665.6L517.6,670.0L519.9,666.2M520.6,639.9L518.1,651.1M517.7,647.2L518.1,651.1L520.1,647.7M520.6,622.3L516.3,632.5M516.6,628.7L516.3,632.5L518.8,629.6M520.6,604.7L517.6,614.9M517.4,611.2L517.6,614.9L519.7,611.9M520.6,587.1L517.6,596.3M517.5,592.9L517.6,596.3L519.6,593.6M520.6,569.5L518.8,580.0M518.2,576.3L518.8,580.0L520.5,576.7M520.6,551.9L520.1,562.4M519.1,558.8L520.1,562.4L521.4,558.9M520.6,534.2L518.8,545.0M518.2,541.3L518.8,545.0L520.6,541.6M520.6,516.6L516.3,530.1M516.2,525.2L516.3,530.1L519.2,526.1M520.6,499.0L522.1,508.8M520.5,505.7L522.1,508.8L522.6,505.4M520.6,481.4L522.6,493.7M520.6,489.8L522.6,493.7L523.2,489.4M520.6,463.8L522.1,476.3M520.2,472.3L522.1,476.3L522.9,472.0M520.6,446.2L516.3,462.4M515.9,456.6L516.3,462.4L519.5,457.5M520.6,428.6L516.3,445.1M515.9,439.2L516.3,445.1L519.5,440.1M520.6,411.0L515.1,428.7M514.9,422.3L515.1,428.7L518.8,423.5M520.6,393.4L513.8,412.6M513.9,405.5L513.8,412.6L518.1,407.0M520.6,375.8L515.1,395.0M514.8,388.0L515.1,395.0L519.0,389.2M520.6,358.1L516.3,376.4M515.7,369.9L516.3,376.4L519.7,370.8M520.6,340.5L516.3,357.5M515.9,351.5L516.3,357.5L519.6,352.4M520.6,322.9L517.6,336.2M517.1,331.5L517.6,336.2L520.0,332.1M520.6,305.3L518.8,317.6M518.1,313.3L518.8,317.6L520.7,313.7M520.6,287.7L519.6,296.2M519.0,293.3L519.6,296.2L520.8,293.5M520.6,270.1L520.1,276.3M519.5,274.2L520.1,276.3L520.9,274.3M520.6,252.5L516.1,260.5M516.7,257.3L516.1,260.5L518.4,258.3M536.1,763.2L535.1,763.7M535.4,763.4L535.1,763.7L535.5,763.6M536.1,745.6L536.3,746.3M536.2,746.1L536.3,746.3L536.3,746.0M536.1,728.0L521.3,740.0M524.9,734.4L521.3,740.0L527.5,737.6M536.1,710.3L528.1,723.8M529.2,718.5L528.1,723.8L532.2,720.3M536.1,692.7L530.1,705.0M530.7,700.3L530.1,705.0L533.4,701.6M536.1,675.1L531.3,688.1M531.5,683.3L531.3,688.1L534.3,684.3M536.1,657.5L531.3,670.0M531.5,665.4L531.3,670.0L534.3,666.4M536.1,639.9L532.6,650.4M532.6,646.6L532.6,650.4L534.9,647.3M536.1,622.3L530.1,632.5M530.9,628.5L530.1,632.5L533.2,629.8M536.1,604.7L531.3,614.9M531.8,611.0L531.3,614.9L534.0,612.1M536.1,587.1L531.3,597.6M531.8,593.6L531.3,597.6L534.0,594.6M536.1,569.5L532.1,580.0M532.3,576.1L532.1,580.0L534.5,576.9M536.1,551.9L535.1,559.9M534.5,557.1L535.1,559.9L536.3,557.3M536.1,534.2L532.6,545.0M532.6,541.1L532.6,545.0L534.9,541.8M536.1,516.6L531.3,528.9M531.6,524.3L531.3,528.9L534.2,525.4M536.1,499.0L537.6,508.8M536.0,505.7L537.6,508.8L538.1,505.4M536.1,481.4L538.1,489.9M536.5,487.3L538.1,489.9L538.3,486.9M536.1,463.8L531.3,476.3M531.5,471.7L531.3,476.3L534.3,472.7M536.1,446.2L532.6,461.2M532.1,455.9L532.6,461.2L535.4,456.6M536.1,428.6L532.6,445.1M531.9,439.3L532.6,445.1L535.5,440.0M536.1,411.0L532.6,425.0M532.2,420.0L532.6,425.0L535.3,420.7M536.1,393.4L538.8,405.1M536.6,401.5L538.8,405.1L539.2,400.9M536.1,375.8L531.3,391.2M531.2,385.6L531.3,391.2L534.6,386.7M536.1,358.1L532.6,370.1M532.4,365.8L532.6,370.1L535.0,366.6M536.1,340.5L532.1,353.8M532.0,349.0L532.1,353.8L534.8,349.8M536.1,322.9L531.1,336.2M531.3,331.3L531.1,336.2L534.2,332.3M536.1,305.3L531.8,316.3M532.0,312.2L531.8,316.3L534.4,313.1M536.1,287.7L532.3,296.2M532.6,293.0L532.3,296.2L534.5,293.8M536.1,270.1L532.8,274.6M533.4,272.8L532.8,274.6L534.4,273.5M536.1,252.5L534.1,254.2M534.5,253.4L534.1,254.2L534.9,253.9M551.6,780.8L565.0,784.8M560.1,785.0L565.0,784.8L561.0,782.0M551.6,763.2L544.0,783.7M544.3,776.1L544.0,783.7L548.7,777.7M551.6,745.6L535.8,766.2M538.8,757.7L535.8,766.2L543.3,761.1M551.6,728.0L543.4,743.4M544.4,737.4L543.4,743.4L547.8,739.2M551.6,710.3L543.1,723.8M544.4,718.5L543.1,723.8L547.4,720.3M551.6,692.7L543.8,704.5M545.1,699.8L543.8,704.5L547.7,701.4M551.6,675.1L545.1,686.4M546.0,681.9L545.1,686.4L548.5,683.4M551.6,657.5L545.1,668.0M546.1,663.8L545.1,668.0L548.4,665.3M551.6,639.9L546.3,649.9M547.0,646.0L546.3,649.9L549.2,647.2M551.6,622.3L546.3,632.5M547.0,628.6L546.3,632.5L549.2,629.7M551.6,604.7L547.6,614.9M547.8,611.1L547.6,614.9L550.0,612.0M551.6,587.1L547.6,596.3M547.9,592.8L547.6,596.3L549.9,593.7M551.6,569.5L546.3,580.0M546.9,575.9L546.3,580.0L549.2,577.1M551.6,551.9L543.8,566.1M544.9,560.6L543.8,566.1L548.0,562.2M551.6,534.2L548.8,540.0M549.1,537.8L548.8,540.0L550.4,538.4M551.6,516.6L547.6,528.9M547.6,524.4L547.6,528.9L550.3,525.3M551.6,499.0L552.6,507.5M551.3,504.8L552.6,507.5L553.2,504.6M551.6,481.4L548.8,491.2M548.7,487.6L548.8,491.2L550.8,488.2M551.6,463.8L547.6,475.1M547.7,470.9L547.6,475.1L550.1,471.8M551.6,446.2L551.3,457.4M550.2,453.7L551.3,457.4L552.7,453.8M551.6,428.6L548.8,431.3M549.5,430.1L548.8,431.3L550.1,430.7M551.6,322.9L548.8,332.4M548.7,329.0L548.8,332.4L550.8,329.6M551.6,305.3L550.1,311.3M549.9,309.2L550.1,311.3L551.2,309.5M551.6,287.7L547.8,297.7M548.0,294.0L547.8,297.7L550.2,294.8M567.1,780.8L581.3,786.0M576.1,785.8L581.3,786.0L577.2,782.7M567.1,763.2L558.0,790.1M558.1,780.2L558.0,790.1L563.9,782.2M567.1,745.6L552.8,773.8M554.4,762.9L552.8,773.8L560.6,766.0M567.1,728.0L556.8,744.0M558.5,737.6L556.8,744.0L562.0,739.8M567.1,710.3L557.1,723.8M558.9,718.3L557.1,723.8L561.9,720.5M567.1,692.7L557.6,703.7M559.6,699.1L557.6,703.7L562.0,701.1M567.1,675.1L558.9,685.1M560.5,680.9L558.9,685.1L562.7,682.7M567.1,657.5L559.6,665.0M561.3,661.7L559.6,665.0L562.9,663.4M567.1,639.9L560.1,649.4M561.4,645.5L560.1,649.4L563.5,647.0M567.1,622.3L560.1,632.5M561.3,628.4L560.1,632.5L563.5,629.9M567.1,604.7L560.1,614.9M561.3,610.8L560.1,614.9L563.5,612.3M567.1,587.1L562.6,597.6M563.0,593.6L562.6,597.6L565.2,594.6M567.1,569.5L560.1,580.0M561.3,575.7L560.1,580.0L563.6,577.3M567.1,551.9L564.6,559.9M564.6,556.9L564.6,559.9L566.3,557.5M567.1,534.2L563.9,545.0M563.8,541.1L563.9,545.0L566.1,541.8M567.1,516.6L563.9,527.6M563.7,523.6L563.9,527.6L566.1,524.4M567.1,499.0L565.1,508.8M564.7,505.3L565.1,508.8L566.8,505.8M567.1,481.4L565.1,489.9M564.9,486.9L565.1,489.9L566.7,487.3M567.1,463.8L566.4,470.1M565.9,467.9L566.4,470.1L567.3,468.1M582.6,780.8L595.7,781.3M591.3,782.6L595.7,781.3L591.4,779.7M582.6,763.2L574.9,798.8M573.6,786.2L574.9,798.8L581.4,787.9M582.6,745.6L566.4,780.2M568.0,767.0L566.4,780.2L575.5,770.5M582.6,728.0L570.8,743.4M573.0,737.0L570.8,743.4L576.4,739.6M582.6,710.3L572.6,726.3M574.2,720.0L572.6,726.3L577.7,722.1M582.6,692.7L572.6,706.2M574.5,700.7L572.6,706.2L577.4,702.9M582.6,675.1L573.9,687.6M575.4,682.5L573.9,687.6L578.1,684.4M582.6,657.5L575.1,668.8M576.4,664.2L575.1,668.8L578.8,665.9M582.6,639.9L573.9,648.6M575.8,644.8L573.9,648.6L577.7,646.7M582.6,622.3L575.1,632.5M576.5,628.3L575.1,632.5L578.7,630.0M582.6,604.7L576.4,613.7M577.5,610.0L576.4,613.7L579.4,611.4M582.6,587.1L578.9,597.6M579.0,593.7L578.9,597.6L581.3,594.5M582.6,569.5L576.4,580.0M577.3,575.8L576.4,580.0L579.6,577.2M582.6,551.9L575.1,564.9M576.2,559.7L575.1,564.9L579.0,561.4M582.6,534.2L580.1,543.7M579.9,540.3L580.1,543.7L582.0,540.9M582.6,516.6L580.1,525.1M580.0,522.1L580.1,525.1L581.9,522.6M582.6,499.0L582.1,507.5M581.4,504.7L582.1,507.5L583.2,504.8M598.2,780.8L610.5,781.3M606.4,782.5L610.5,781.3L606.5,779.8M598.2,763.2L593.6,784.8M592.7,777.2L593.6,784.8L597.5,778.2M598.2,745.6L576.7,773.2M580.8,761.7L576.7,773.2L586.8,766.4M598.2,728.0L586.0,742.8M588.4,736.6L586.0,742.8L591.6,739.2M598.2,710.3L583.7,726.3M586.7,719.5L583.7,726.3L590.2,722.6M598.2,692.7L587.4,706.2M589.5,700.6L587.4,706.2L592.4,702.9M598.2,675.1L588.7,686.4M590.6,681.6L588.7,686.4L593.0,683.7M598.2,657.5L589.9,668.8M591.4,664.1L589.9,668.8L593.9,665.9M598.2,639.9L589.9,651.1M591.4,646.5L589.9,651.1L593.9,648.3M598.2,622.3L591.2,632.5M592.4,628.4L591.2,632.5L594.6,629.9M598.2,604.7L593.7,613.7M594.2,610.2L593.7,613.7L596.1,611.2M598.2,587.1L596.2,595.1M595.9,592.2L596.2,595.1L597.7,592.6M598.2,569.5L592.4,577.0M593.5,573.9L592.4,577.0L595.1,575.1M598.2,551.9L591.9,557.4M593.4,554.9L591.9,557.4L594.6,556.2M598.2,534.2L597.4,541.2M596.9,538.8L597.4,541.2L598.4,539.0M613.7,780.8L627.4,780.2M623.0,781.9L627.4,780.2L622.8,778.9M613.7,763.2L607.6,786.0M607.1,777.8L607.6,786.0L612.1,779.1M613.7,745.6L604.7,766.2M605.4,758.4L604.7,766.2L609.9,760.4M613.7,728.0L601.2,741.7M603.8,735.8L601.2,741.7L606.8,738.5M613.7,710.3L598.7,725.1M602.0,718.6L598.7,725.1L605.2,721.9M613.7,692.7L601.2,706.2M603.8,700.4L601.2,706.2L606.8,703.1M613.7,675.1L604.9,686.4M606.6,681.7L604.9,686.4L609.0,683.6M613.7,657.5L604.9,668.8M606.6,664.1L604.9,668.8L609.0,666.0M613.7,639.9L604.9,651.1M606.6,646.5L604.9,651.1L609.0,648.4M613.7,622.3L606.2,632.5M607.5,628.3L606.2,632.5L609.8,630.0M613.7,604.7L608.7,613.7M609.3,610.2L608.7,613.7L611.3,611.3M613.7,587.1L609.9,592.6M610.6,590.3L609.9,592.6L611.8,591.2M613.7,569.5L607.9,571.2M609.6,570.0L607.9,571.2L610.0,571.3M613.7,551.9L604.4,556.1M607.0,553.7L604.4,556.1L607.9,555.7M629.2,780.8L642.4,779.5M638.2,781.4L642.4,779.5L637.9,778.5M629.2,763.2L623.3,773.2M624.2,769.2L623.3,773.2L626.4,770.5M629.2,745.6L621.0,763.8M621.7,756.9L621.0,763.8L625.7,758.7M629.2,728.0L617.5,739.9M620.1,734.7L617.5,739.9L622.7,737.2M629.2,710.3L616.2,723.8M619.0,718.0L616.2,723.8L622.0,720.8M629.2,692.7L617.4,705.0M620.0,699.7L617.4,705.0L622.7,702.2M629.2,675.1L618.7,687.6M620.8,682.4L618.7,687.6L623.5,684.6M629.2,657.5L619.9,668.8M621.8,664.0L619.9,668.8L624.2,666.1M629.2,639.9L621.2,649.9M622.8,645.7L621.2,649.9L624.9,647.5M629.2,622.3L621.2,631.3M622.9,627.4L621.2,631.3L624.8,629.2M629.2,604.7L622.4,608.7M624.2,606.6L622.4,608.7L625.1,608.1M629.2,587.1L624.9,588.8M626.2,587.8L624.9,588.8L626.5,588.7M629.2,569.5L626.2,570.0M627.1,569.5L626.2,570.0L627.2,570.1M629.2,551.9L622.8,554.6M624.6,553.0L622.8,554.6L625.2,554.4M644.7,780.8L660.0,777.5M655.3,780.3L660.0,777.5L654.6,776.9M644.7,763.2L642.5,764.9M643.0,764.1L642.5,764.9L643.4,764.6M644.7,745.6L635.0,755.1M637.2,750.9L635.0,755.1L639.2,753.0M644.7,728.0L630.0,738.7M633.7,733.5L630.0,738.7L636.0,736.8M644.7,710.3L632.5,722.6M635.2,717.2L632.5,722.6L637.8,719.9M644.7,692.7L633.7,703.7M636.2,698.9L633.7,703.7L638.5,701.3M644.7,675.1L635.0,686.4M637.0,681.6L635.0,686.4L639.4,683.7M644.7,657.5L635.0,667.5M637.1,663.1L635.0,667.5L639.3,665.3M644.7,639.9L635.0,647.4M637.4,643.9L635.0,647.4L639.0,646.0M644.7,622.3L633.7,625.0M637.1,622.9L633.7,625.0L637.6,625.3M644.7,604.7L640.0,606.2M641.4,605.2L640.0,606.2L641.7,606.2M660.2,780.8L675.0,776.3M670.6,779.4L675.0,776.3L669.6,776.2M660.2,763.2L655.0,759.9M657.1,760.4L655.0,759.9L656.4,761.6M660.2,745.6L652.2,750.3M654.4,747.8L652.2,750.3L655.4,749.6M660.2,728.0L648.4,738.4M651.2,733.7L648.4,738.4L653.5,736.3M660.2,710.3L651.2,720.1M653.1,715.9L651.2,720.1L655.3,717.9M660.2,692.7L651.2,703.7M653.0,699.1L651.2,703.7L655.4,701.1M660.2,675.1L651.2,686.4M653.0,681.7L651.2,686.4L655.4,683.6M660.2,657.5L651.2,666.3M653.3,662.4L651.2,666.3L655.2,664.4M660.2,639.9L650.0,644.9M652.8,642.1L650.0,644.9L653.9,644.4M660.2,622.3L648.7,625.0M652.2,622.9L648.7,625.0L652.8,625.4M675.8,763.2L680.0,762.4M678.7,763.1L680.0,762.4L678.5,762.2M675.8,745.6L677.7,754.9M676.1,752.1L677.7,754.9L678.1,751.6M675.8,728.0L676.7,745.1M674.5,739.5L676.7,745.1L678.3,739.3M675.8,710.3L668.8,718.8M670.1,715.3L668.8,718.8L672.0,716.8M675.8,692.7L668.8,702.5M670.0,698.5L668.8,702.5L672.1,700.0M675.8,675.1L667.5,685.1M669.1,680.9L667.5,685.1L671.3,682.7M675.8,657.5L666.3,665.0M668.6,661.5L666.3,665.0L670.2,663.6M675.8,639.9L666.3,643.6M669.0,641.4L666.3,643.6L669.8,643.4M675.8,622.3L666.3,621.3M669.5,620.6L666.3,621.3L669.3,622.7M691.3,763.2L700.0,758.7M697.6,761.1L700.0,758.7L696.7,759.2M691.3,745.6L690.0,760.1M688.9,755.1L690.0,760.1L692.0,755.4M691.3,728.0L703.8,756.2M696.6,748.2L703.8,756.2L702.7,745.5M691.3,710.3L692.5,725.1M690.5,720.4L692.5,725.1L693.7,720.1M691.3,692.7L687.5,703.7M687.6,699.7L687.5,703.7L690.0,700.5M691.3,675.1L685.0,682.6M686.3,679.5L685.0,682.6L687.9,680.8M691.3,657.5L683.8,660.0M686.0,658.4L683.8,660.0L686.5,660.0M691.3,639.9L682.4,643.1M685.0,641.1L682.4,643.1L685.7,643.0M706.8,763.2L716.3,761.2M713.4,762.9L716.3,761.2L712.9,760.8M706.8,745.6L718.8,758.8M713.4,755.7L718.8,758.8L716.3,753.1M706.8,728.0L706.2,752.3M703.7,744.2L706.2,752.3L709.0,744.4M706.8,710.3L717.0,727.6M711.8,723.0L717.0,727.6L715.5,720.8M706.8,692.7L707.1,693.7M706.9,693.4L707.1,693.7L707.1,693.4M722.3,763.2L735.1,756.2M731.6,759.9L735.1,756.2L730.1,757.1M722.3,745.6L727.6,743.8M726.0,745.0L727.6,743.8L725.6,743.8M722.3,728.0L740.0,728.8M734.1,730.4L740.0,728.8L734.3,726.6M722.3,710.3L731.3,722.1M727.1,719.2L731.3,722.1L729.6,717.2M737.8,745.6L752.6,735.1M748.9,740.1L752.6,735.1L746.6,736.9M737.8,728.0L740.1,747.5M737.2,741.3L740.1,747.5L741.5,740.8M737.8,710.3L740.1,718.8M738.4,716.3L740.1,718.8L740.3,715.8M753.4,728.0L764.5,715.6M762.2,720.9L764.5,715.6L759.5,718.5M753.4,710.3L757.5,709.9M756.2,710.5L757.5,709.9L756.1,709.6M753.4,692.7L753.7,694.1M753.5,693.7L753.7,694.1L753.8,693.6M768.9,710.3L772.2,708.4M771.3,709.4L772.2,708.4L770.9,708.7M784.4,692.7L785.5,692.3M785.2,692.6L785.5,692.3L785.1,692.3" fill="none" stroke="#000" stroke-width="1.6" stroke-linejoin="bevel" shape-rendering="crispEdges"/>
<path d="M328.0,100.5L378.0,100.5M361.5,107.1L378.0,100.5L361.5,93.9" fill="none" stroke="#000" stroke-width="2.2" stroke-linejoin="bevel" shape-rendering="crispEdges"/>
<circle cx="132.5" cy="116" r="3.4" fill="#00EE00"/>
<circle cx="161.2" cy="111.5" r="3.4" fill="#00EE00"/>
<circle cx="226" cy="123.8" r="3.4" fill="#00EE00"/>
<circle cx="329.5" cy="186.5" r="3.4" fill="#00EE00"/>
<circle cx="373" cy="165.5" r="3.4" fill="#00EE00"/>
<circle cx="406.5" cy="143.5" r="3.4" fill="#00EE00"/>
<circle cx="431.5" cy="149.5" r="3.4" fill="#00EE00"/>
<circle cx="452.5" cy="161.2" r="3.4" fill="#00EE00"/>
<circle cx="477.5" cy="190.5" r="3.4" fill="#00EE00"/>
<circle cx="494.5" cy="216.5" r="3.4" fill="#00EE00"/>
<circle cx="548" cy="268" r="3.4" fill="#00EE00"/>
<circle cx="547.5" cy="345" r="3.4" fill="#00EE00"/>
<circle cx="544.5" cy="351.5" r="3.4" fill="#00EE00"/>
<circle cx="543" cy="370.5" r="3.4" fill="#00EE00"/>
<circle cx="574" cy="383.5" r="3.4" fill="#00EE00"/>
<circle cx="580.5" cy="391.5" r="3.4" fill="#00EE00"/>
<circle cx="566.2" cy="413" r="3.4" fill="#00EE00"/>
<circle cx="686.2" cy="628.2" r="3.4" fill="#00EE00"/>
<circle cx="700.5" cy="655" r="3.4" fill="#00EE00"/>
<circle cx="701" cy="659.5" r="3.4" fill="#00EE00"/>
<circle cx="701.8" cy="666.8" r="3.4" fill="#00EE00"/>
<circle cx="729.5" cy="687" r="3.4" fill="#00EE00"/>
<circle cx="751.5" cy="703.2" r="3.4" fill="#00EE00"/>
<circle cx="572.5" cy="428.2" r="3.4" fill="#00EE00"/>
<circle cx="595.2" cy="485.2" r="3.4" fill="#00EE00"/>
<circle cx="618" cy="490.8" r="3.4" fill="#00EE00"/>
<circle cx="636.5" cy="520.2" r="3.4" fill="#00EE00"/>
<circle cx="686.2" cy="628.2" r="3.4" fill="#00EE00"/>
<circle cx="572.5" cy="428" r="3.4" fill="#00EE00"/>
<path d="M716.5,353.0L719.7,372.3L737.0,375.5L719.7,378.7L716.5,398.0L713.3,378.7L697.0,375.5L713.3,372.3Z" fill="#000" stroke="#000" stroke-width="0.6"/>
<path d="M716.1,364.5L714.3,372.5L716.1,374.5ZM726.5,374.9L719.5,373.3L717.5,374.9ZM717.1,386.5L718.7,378.5L717.1,376.5ZM705.5,376.1L713.5,377.7L715.5,376.1Z" fill="#fff"/>
<g shape-rendering="crispEdges" stroke="#000" stroke-width="1" fill="none">
<rect x="85.5" y="45.5" width="728.0" height="771.0"/>
<path d="M134.5,45.5v-8M134.5,816.5v8"/>
<path d="M231.5,45.5v-8M231.5,816.5v8"/>
<path d="M328.5,45.5v-8M328.5,816.5v8"/>
<path d="M425.5,45.5v-8M425.5,816.5v8"/>
<path d="M522.5,45.5v-8M522.5,816.5v8"/>
<path d="M619.5,45.5v-8M619.5,816.5v8"/>
<path d="M716.5,45.5v-8M716.5,816.5v8"/>
<path d="M813.5,45.5v-8M813.5,816.5v8"/>
<path d="M85.5,45.5h-9M813.5,45.5h8"/>
<path d="M85.5,155.5h-9M813.5,155.5h8"/>
<path d="M85.5,265.5h-9M813.5,265.5h8"/>
<path d="M85.5,375.5h-9M813.5,375.5h8"/>
<path d="M85.5,485.5h-9M813.5,485.5h8"/>
<path d="M85.5,596.5h-9M813.5,596.5h8"/>
<path d="M85.5,706.5h-9M813.5,706.5h8"/>
<path d="M85.5,816.5h-9M813.5,816.5h8"/>
</g>
<g font-family="'Liberation Serif',serif" font-weight="bold" font-size="16px" fill="#000">
<text x="134.5" y="842" text-anchor="middle">87</text>
<text x="231.5" y="842" text-anchor="middle">86</text>
<text x="328.5" y="842" text-anchor="middle">85</text>
<text x="425.5" y="842" text-anchor="middle">84</text>
<text x="522.5" y="842" text-anchor="middle">83</text>
<text x="619.5" y="842" text-anchor="middle">82</text>
<text x="716.5" y="842" text-anchor="middle">81</text>
<text x="813.5" y="842" text-anchor="middle">80</text>
<text x="75" y="50.5" text-anchor="end">31</text>
<text x="75" y="160.5" text-anchor="end">30</text>
<text x="75" y="270.5" text-anchor="end">29</text>
<text x="75" y="380.5" text-anchor="end">28</text>
<text x="75" y="490.5" text-anchor="end">27</text>
<text x="75" y="601.5" text-anchor="end">26</text>
<text x="75" y="711.5" text-anchor="end">25</text>
<text x="75" y="821.5" text-anchor="end">24</text>
<text x="396.5" y="858" font-size="16px" textLength="106.5" lengthAdjust="spacing">Longitude (°W)</text>
<text transform="translate(50,476.5) rotate(-90)" font-size="16px" textLength="93" lengthAdjust="spacing">Latitude (°N)</text>
<text x="262" y="31.5" font-size="17px" textLength="375" lengthAdjust="spacing">FVCOM surface current at hour 1 on 01/25/2018</text>
<text x="621" y="492.7" font-size="20px" fill="#FF0000" textLength="100.3" lengthAdjust="spacing">OCG@USF</text>
<text x="328.5" y="95.5" font-size="17px" font-weight="normal" textLength="36" lengthAdjust="spacing">1 m/s</text>
<text x="717" y="347" font-size="12px">N</text>
</g>
<g shape-rendering="crispEdges">
<rect x="445.5" y="81.5" width="21.5" height="9" fill="#00008F" stroke="#000" stroke-width="1"/>
<rect x="467.0" y="81.5" width="21.5" height="9" fill="#0000CF" stroke="#000" stroke-width="1"/>
<rect x="488.5" y="81.5" width="21.5" height="9" fill="#0000FF" stroke="#000" stroke-width="1"/>
<rect x="510.0" y="81.5" width="21.5" height="9" fill="#0040FF" stroke="#000" stroke-width="1"/>
<rect x="531.5" y="81.5" width="21.5" height="9" fill="#0080FF" stroke="#000" stroke-width="1"/>
<rect x="553.0" y="81.5" width="21.5" height="9" fill="#00CCFF" stroke="#000" stroke-width="1"/>
<rect x="574.5" y="81.5" width="21.5" height="9" fill="#00FFFF" stroke="#000" stroke-width="1"/>
<rect x="596.0" y="81.5" width="21.5" height="9" fill="#55FFAA" stroke="#000" stroke-width="1"/>
<rect x="617.5" y="81.5" width="21.5" height="9" fill="#99FF66" stroke="#000" stroke-width="1"/>
<rect x="639.0" y="81.5" width="21.5" height="9" fill="#CCFF33" stroke="#000" stroke-width="1"/>
<rect x="660.5" y="81.5" width="21.5" height="9" fill="#FFEE00" stroke="#000" stroke-width="1"/>
<rect x="682.0" y="81.5" width="21.5" height="9" fill="#FFAA00" stroke="#000" stroke-width="1"/>
<rect x="703.5" y="81.5" width="21.5" height="9" fill="#FF6600" stroke="#000" stroke-width="1"/>
<rect x="725.0" y="81.5" width="21.5" height="9" fill="#FF3300" stroke="#000" stroke-width="1"/>
<rect x="746.5" y="81.5" width="21.5" height="9" fill="#EE0000" stroke="#000" stroke-width="1"/>
<rect x="768.0" y="81.5" width="21.5" height="9" fill="#AA0000" stroke="#000" stroke-width="1"/>
</g>
<g font-family="'Liberation Sans',sans-serif" font-size="9px" fill="#000" text-anchor="middle">
<text x="445.5" y="103">20</text>
<text x="488.5" y="103">22</text>
<text x="531.5" y="103">24</text>
<text x="574.5" y="103">26</text>
<text x="617.5" y="103">28</text>
<text x="660.5" y="103">30</text>
<text x="703.5" y="103">32</text>
<text x="746.5" y="103">34</text>
<text x="789.5" y="103">36</text>
<text x="585" y="72.5" text-anchor="start" font-style="italic" font-family="'Liberation Serif',serif" font-size="11px" textLength="63.5" lengthAdjust="spacing">salinity (psu)</text>
</g>
</svg>
</body></html>
